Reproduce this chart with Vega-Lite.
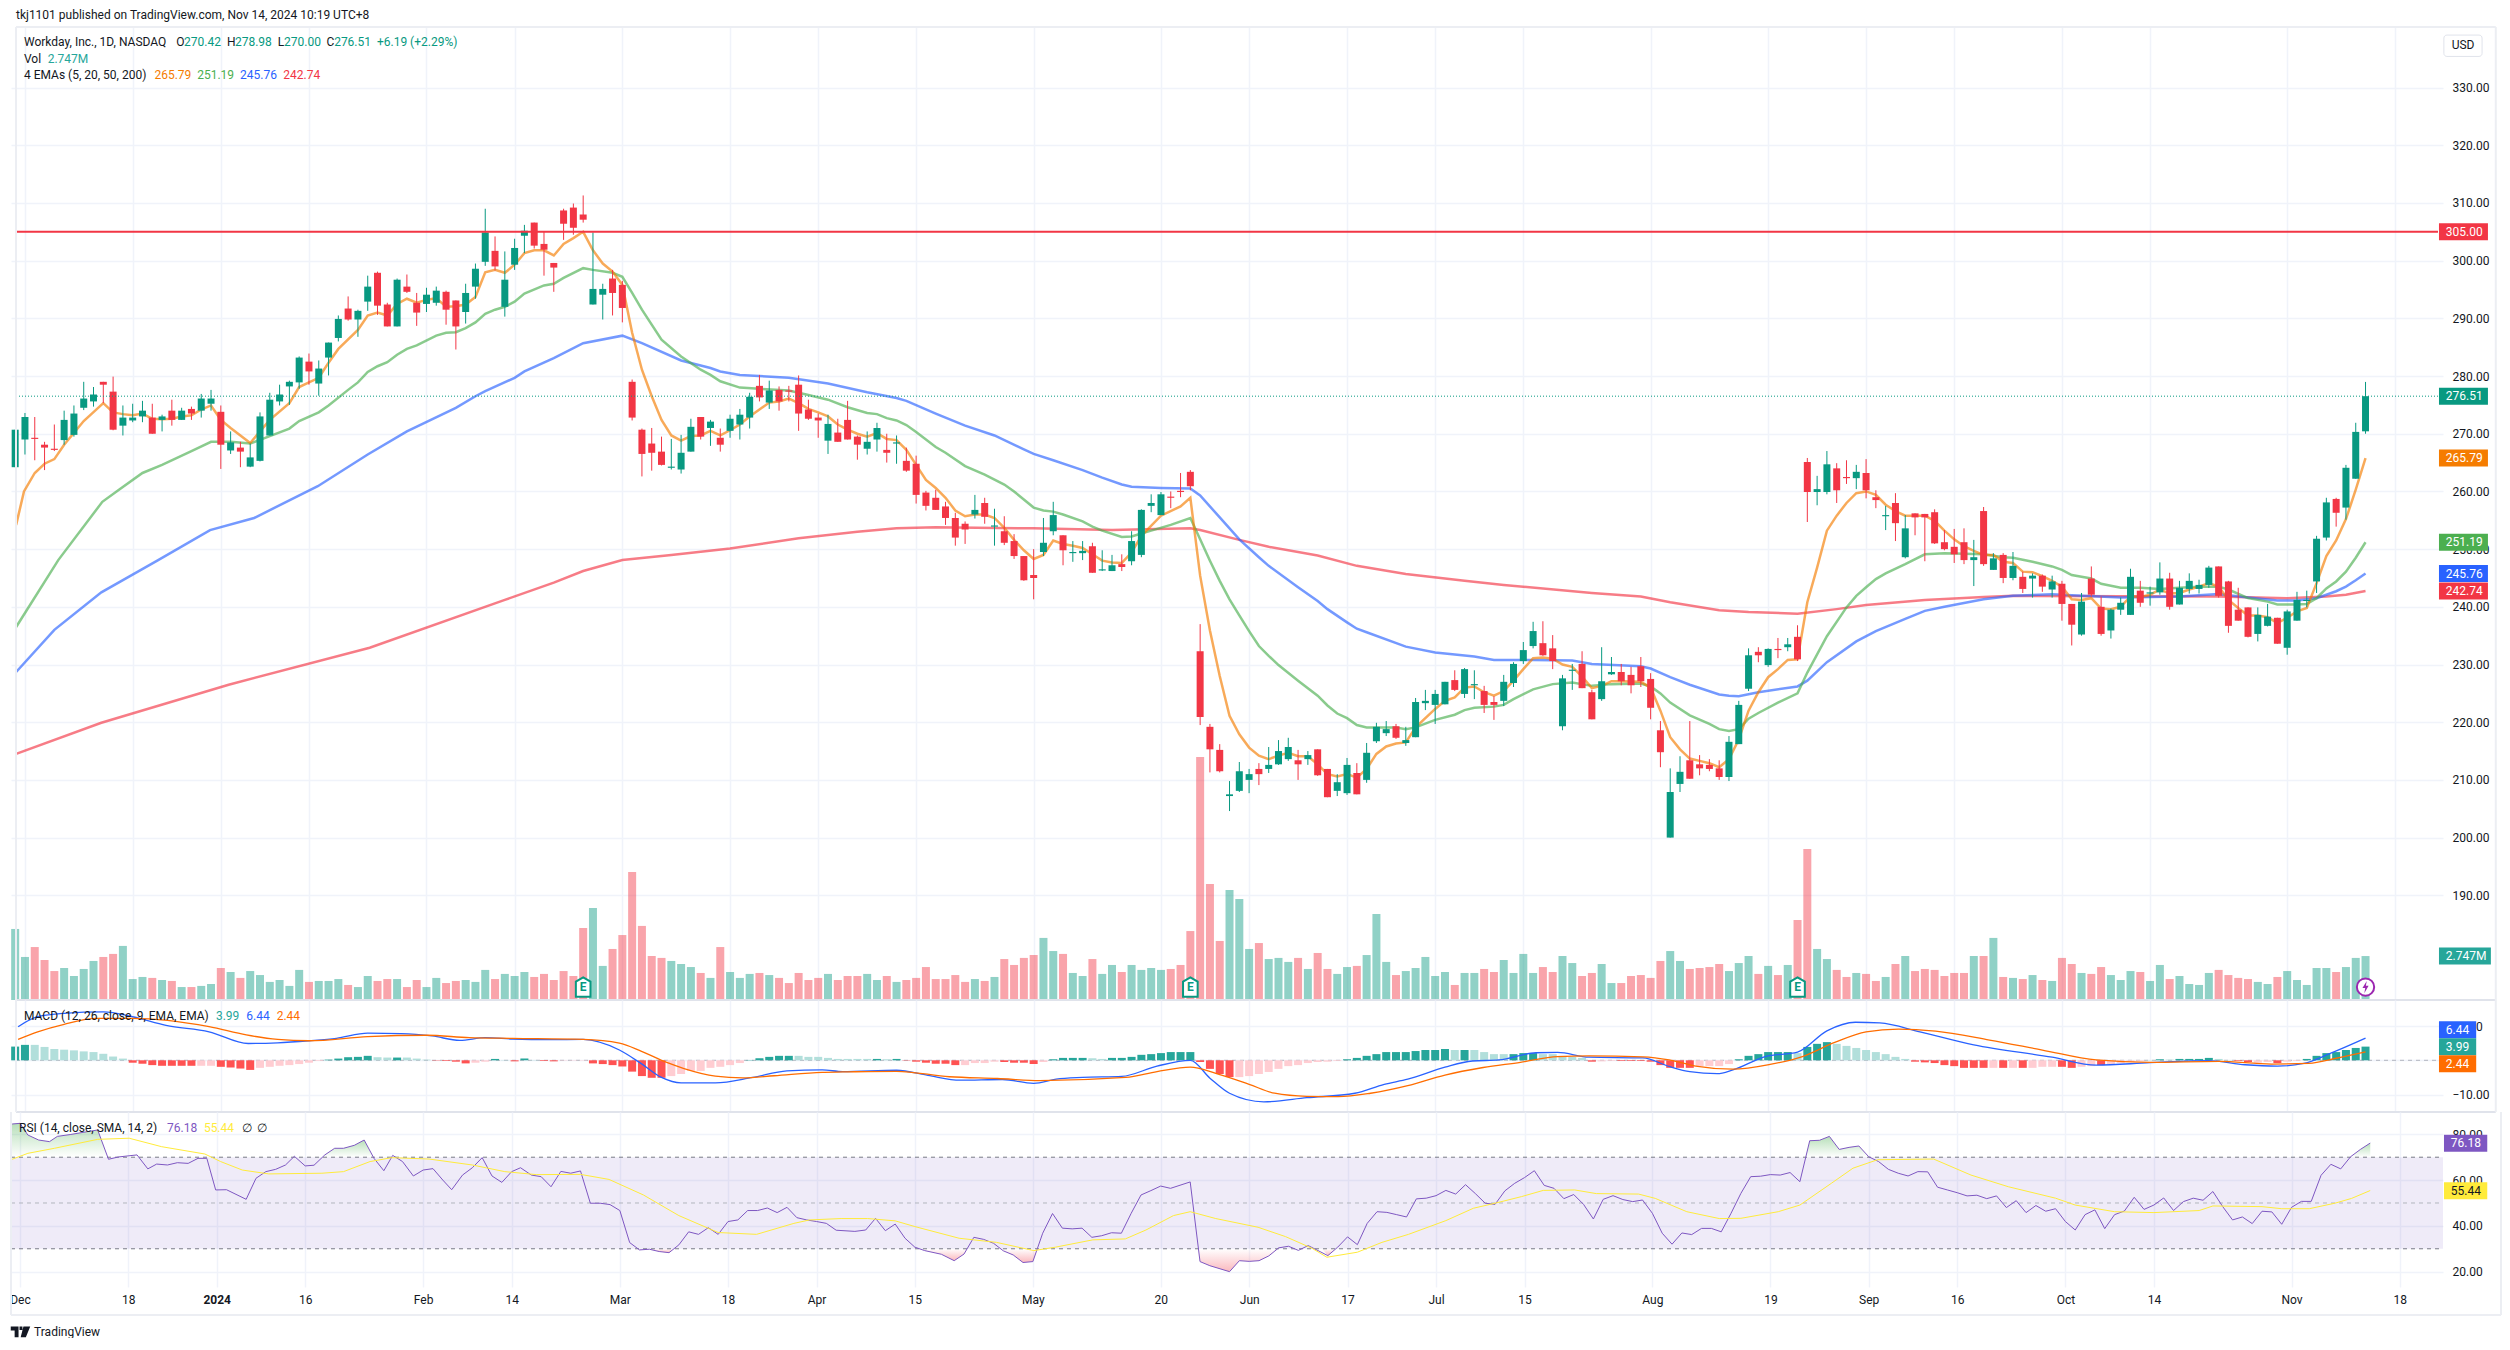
{
"$schema":"https://vega.github.io/schema/vega-lite/v6.json",
"background":"white",
"padding":{"left":9,"top":8,"right":0,"bottom":0},
"spacing":0,
"bounds":"flush",
"config":{"font":"Roboto","legend":{"disable":true},"view":{"stroke":null},"text":{"fontSize":12,"align":"left","baseline":"middle"},
"axis":{"title":null,"domain":false,"ticks":false,"gridColor":"#f0f3fa","gridWidth":1.5,"labelFontSize":12,"labelColor":"#131722","labelFont":"Roboto"}},
"datasets":{
"bars":[
{"i":-1,"o":264.2,"h":270.7,"l":264.2,"c":270.7,"v":4.44},{"i":0,"o":269,"h":273.6,"l":266.4,"c":272.9,"v":2.69},{"i":1,"o":269.3,"h":272.9,"l":265.4,"c":269.1,"v":3.31},{"i":2,"o":268.1,"h":268.6,"l":263.7,"c":267.6,"v":2.5},{"i":3,"o":267.4,"h":271.6,"l":267,"c":267.2,"v":1.81},{"i":4,"o":268.9,"h":274,"l":268.1,"c":272.4,"v":2},{"i":5,"o":269.8,"h":274.9,"l":269.5,"c":273.5,"v":1.5},{"i":6,"o":274.5,"h":279,"l":274.1,"c":276.1,"v":1.94},{"i":7,"o":275.6,"h":278.1,"l":274.7,"c":276.8,"v":2.44},{"i":8,"o":279,"h":279,"l":275.3,"c":278.5,"v":2.69},
{"i":9,"o":277.3,"h":279.9,"l":270.6,"c":270.7,"v":2.88},{"i":10,"o":271.4,"h":274.9,"l":269.7,"c":272.8,"v":3.38},{"i":11,"o":272.3,"h":275.2,"l":272,"c":272.8,"v":1.31},{"i":12,"o":273,"h":275.7,"l":272,"c":274,"v":1.44},{"i":13,"o":272.8,"h":275.2,"l":270,"c":270,"v":1.38},{"i":14,"o":272.4,"h":273.3,"l":270.4,"c":273,"v":1.25},{"i":15,"o":274,"h":275.9,"l":271.4,"c":272.4,"v":1.19},{"i":16,"o":272.4,"h":274.5,"l":272.4,"c":274,"v":0.81},{"i":17,"o":274.3,"h":274.7,"l":272.4,"c":273.5,"v":0.81},{"i":18,"o":274,"h":276.9,"l":272.8,"c":276.1,"v":0.88},
{"i":19,"o":275.2,"h":277.6,"l":274,"c":276.1,"v":1},{"i":20,"o":273.8,"h":274.9,"l":263.9,"c":268.1,"v":2},{"i":21,"o":267.1,"h":270.4,"l":266.5,"c":268.5,"v":1.75},{"i":22,"o":267.6,"h":268.6,"l":264.2,"c":266.9,"v":1.38},{"i":23,"o":264.3,"h":268.3,"l":264.2,"c":265.9,"v":1.81},{"i":24,"o":265.3,"h":273.7,"l":265.2,"c":273,"v":1.56},{"i":25,"o":269.7,"h":277.1,"l":269.7,"c":275.9,"v":1.13},{"i":26,"o":275.6,"h":278.5,"l":274.9,"c":276.8,"v":1.25},{"i":27,"o":278.2,"h":279.2,"l":275,"c":279,"v":0.88},{"i":28,"o":278.9,"h":283.4,"l":277.8,"c":283.2,"v":1.88},
{"i":29,"o":282.5,"h":283.9,"l":278.5,"c":280.8,"v":1.13},{"i":30,"o":278.7,"h":282.7,"l":276.6,"c":281.3,"v":1.19},{"i":31,"o":283.2,"h":285.8,"l":280.1,"c":285.8,"v":1.19},{"i":32,"o":286.6,"h":290.5,"l":286,"c":289.9,"v":1.31},{"i":33,"o":291.7,"h":293.8,"l":289.6,"c":289.8,"v":0.94},{"i":34,"o":289.8,"h":291.5,"l":286.8,"c":291.3,"v":0.81},{"i":35,"o":292.9,"h":297.4,"l":291.3,"c":295.5,"v":1.5},{"i":36,"o":297.9,"h":298.1,"l":290.6,"c":292.2,"v":1.19},{"i":37,"o":292.4,"h":292.7,"l":288.6,"c":288.6,"v":1.31},{"i":38,"o":288.6,"h":296.9,"l":288.6,"c":296.7,"v":1.31},
{"i":39,"o":295.5,"h":297.6,"l":294.4,"c":294.6,"v":0.81},{"i":40,"o":292.7,"h":294.4,"l":288.7,"c":291,"v":1.25},{"i":41,"o":292.5,"h":295.3,"l":291.1,"c":294.1,"v":0.81},{"i":42,"o":292.7,"h":295.5,"l":292.2,"c":294.8,"v":1.38},{"i":43,"o":294.6,"h":294.8,"l":288.9,"c":291.5,"v":1.06},{"i":44,"o":293.1,"h":293.1,"l":284.6,"c":288.6,"v":1.19},{"i":45,"o":291.1,"h":296,"l":289.1,"c":294.4,"v":1.25},{"i":46,"o":295.5,"h":299.5,"l":293.4,"c":298.6,"v":1.13},{"i":47,"o":299.8,"h":309,"l":299.1,"c":304.9,"v":1.88},{"i":48,"o":301.7,"h":304.2,"l":298.3,"c":299,"v":1.31},
{"i":49,"o":292,"h":301.6,"l":290.3,"c":296.7,"v":1.63},{"i":50,"o":299.3,"h":303.8,"l":298.4,"c":302.2,"v":1.5},{"i":51,"o":304.3,"h":306.2,"l":301.3,"c":305.2,"v":1.75},{"i":52,"o":306.6,"h":306.6,"l":302.1,"c":302.6,"v":1.44},{"i":53,"o":302.9,"h":305,"l":297.4,"c":301.9,"v":1.63},{"i":54,"o":299.6,"h":299.6,"l":294.6,"c":298.8,"v":1.25},{"i":55,"o":308.7,"h":309,"l":303.6,"c":306.4,"v":1.81},{"i":56,"o":309.2,"h":309.9,"l":304.5,"c":305.7,"v":1.5},{"i":57,"o":308,"h":311.3,"l":306.6,"c":307.1,"v":4.5},{"i":58,"o":292.4,"h":304.9,"l":292.4,"c":295.1,"v":5.75},
{"i":59,"o":294.1,"h":296,"l":289.8,"c":295.1,"v":2.13},{"i":60,"o":296.9,"h":298.4,"l":290.5,"c":294.4,"v":3.19},{"i":61,"o":295.8,"h":296.5,"l":289.3,"c":291.8,"v":4.06},{"i":62,"o":279,"h":279.4,"l":272.3,"c":272.8,"v":8},{"i":63,"o":270.7,"h":270.9,"l":262.6,"c":266.5,"v":4.63},{"i":64,"o":268.3,"h":271,"l":263.6,"c":266.7,"v":2.75},{"i":65,"o":266.9,"h":269.5,"l":264.5,"c":264.6,"v":2.63},{"i":66,"o":264.1,"h":269.1,"l":263.8,"c":264.3,"v":2.44},{"i":67,"o":263.8,"h":269.8,"l":263.1,"c":266.7,"v":2.25},{"i":68,"o":266.9,"h":272.6,"l":266.9,"c":271.2,"v":2.06},
{"i":69,"o":272.9,"h":272.9,"l":269,"c":269.5,"v":1.69},{"i":70,"o":271,"h":272.4,"l":267.9,"c":272.1,"v":1.38},{"i":71,"o":269.3,"h":270.9,"l":266.9,"c":268.1,"v":3.31},{"i":72,"o":270.5,"h":273.3,"l":269.3,"c":272.6,"v":1.75},{"i":73,"o":271.6,"h":274.3,"l":269,"c":273.3,"v":1.38},{"i":74,"o":272.8,"h":277.1,"l":270.9,"c":276.4,"v":1.63},{"i":75,"o":278.3,"h":280.2,"l":275.6,"c":276.3,"v":1.69},{"i":76,"o":275.4,"h":279.2,"l":274.3,"c":277.5,"v":1.56},{"i":77,"o":277.6,"h":278.2,"l":274,"c":275.6,"v":1.38},{"i":78,"o":277.5,"h":278.3,"l":275.6,"c":277.3,"v":1.06},
{"i":79,"o":278.5,"h":280.1,"l":270.5,"c":273.5,"v":1.69},{"i":80,"o":274.2,"h":275.9,"l":272.4,"c":272.6,"v":1.25},{"i":81,"o":272.8,"h":273.5,"l":269.3,"c":272.3,"v":1.38},{"i":82,"o":268.8,"h":273.3,"l":266.5,"c":271.7,"v":1.63},{"i":83,"o":270.2,"h":272.6,"l":268.6,"c":268.6,"v":1.25},{"i":84,"o":272.4,"h":275.7,"l":269,"c":269,"v":1.5},{"i":85,"o":269.5,"h":269.7,"l":265.5,"c":268.1,"v":1.5},{"i":86,"o":267.4,"h":270.4,"l":266.4,"c":268.6,"v":1.63},{"i":87,"o":269,"h":271.9,"l":266.9,"c":271,"v":1.25},{"i":88,"o":267.2,"h":270,"l":265,"c":266.7,"v":1.5},
{"i":89,"o":268.3,"h":269.7,"l":264.8,"c":268.5,"v":1.13},{"i":90,"o":265.3,"h":267.6,"l":263.4,"c":263.6,"v":1.25},{"i":91,"o":264.8,"h":266.2,"l":257.9,"c":259.4,"v":1.38},{"i":92,"o":259.8,"h":260.1,"l":256.7,"c":257.5,"v":2.06},{"i":93,"o":258.9,"h":260.3,"l":256.8,"c":256.8,"v":1.31},{"i":94,"o":257.4,"h":258.2,"l":254.2,"c":255.4,"v":1.31},{"i":95,"o":255.4,"h":256.3,"l":250.6,"c":252,"v":1.56},{"i":96,"o":254.4,"h":254.8,"l":250.9,"c":253.4,"v":1.13},{"i":97,"o":256,"h":259.4,"l":255.3,"c":256.8,"v":1.31},{"i":98,"o":258,"h":258.9,"l":254.4,"c":255.6,"v":1.19},
{"i":99,"o":253.9,"h":257,"l":250.6,"c":254.1,"v":1.44},{"i":100,"o":253.1,"h":255.7,"l":250.7,"c":251.1,"v":2.56},{"i":101,"o":251.4,"h":252.6,"l":248.3,"c":248.8,"v":2.19},{"i":102,"o":248.8,"h":248.8,"l":244.5,"c":244.6,"v":2.63},{"i":103,"o":245.5,"h":250,"l":241.3,"c":245,"v":2.81},{"i":104,"o":249.5,"h":255.4,"l":248.8,"c":251.1,"v":3.88},{"i":105,"o":253.1,"h":258.2,"l":252.4,"c":255.9,"v":3.06},{"i":106,"o":252.4,"h":252.4,"l":247.2,"c":249.8,"v":2.88},{"i":107,"o":249.3,"h":251.4,"l":247.8,"c":249.5,"v":1.69},{"i":108,"o":249.3,"h":251.4,"l":248.1,"c":249.7,"v":1.5},
{"i":109,"o":250.5,"h":251.1,"l":245.9,"c":245.9,"v":2.56},{"i":110,"o":246.3,"h":249.8,"l":246.2,"c":246.5,"v":1.63},{"i":111,"o":246.2,"h":249,"l":246.2,"c":247.2,"v":2.19},{"i":112,"o":247.4,"h":249.1,"l":246.2,"c":246.9,"v":1.75},{"i":113,"o":247.9,"h":253.1,"l":247.2,"c":251.4,"v":2.19},{"i":114,"o":249,"h":256.9,"l":248.6,"c":256.8,"v":1.88},{"i":115,"o":257.5,"h":259.5,"l":256.4,"c":258,"v":2},{"i":116,"o":255.9,"h":259.9,"l":255.9,"c":259.5,"v":1.88},{"i":117,"o":259.1,"h":260,"l":257.1,"c":258.9,"v":1.94},{"i":118,"o":260.1,"h":263.2,"l":259,"c":259.9,"v":2.19},
{"i":119,"o":263.4,"h":263.7,"l":260.2,"c":260.9,"v":4.31},{"i":120,"o":232.3,"h":237,"l":219.5,"c":220.9,"v":15.19},{"i":121,"o":219.2,"h":219.7,"l":211.3,"c":215.3,"v":7.25},{"i":122,"o":215.2,"h":216.2,"l":211.3,"c":211.5,"v":3.69},{"i":123,"o":207.2,"h":209.8,"l":204.6,"c":207.5,"v":6.88},{"i":124,"o":208.1,"h":213.1,"l":207.9,"c":211.5,"v":6.31},{"i":125,"o":210,"h":211.9,"l":207.7,"c":211,"v":3.19},{"i":126,"o":211.9,"h":212.9,"l":209.1,"c":211,"v":3.56},{"i":127,"o":211.9,"h":215.7,"l":211.2,"c":212.6,"v":2.56},{"i":128,"o":212.7,"h":216.9,"l":212.6,"c":215,"v":2.63},
{"i":129,"o":213.6,"h":217.3,"l":213.3,"c":215.7,"v":2.38},{"i":130,"o":213.4,"h":215.2,"l":210,"c":212.7,"v":2.63},{"i":131,"o":213.6,"h":215,"l":212.6,"c":214.3,"v":1.94},{"i":132,"o":215.3,"h":215.3,"l":210.7,"c":210.8,"v":2.94},{"i":133,"o":211.9,"h":211.9,"l":207,"c":207,"v":1.94},{"i":134,"o":208.1,"h":211,"l":207.2,"c":209.6,"v":1.63},{"i":135,"o":207.7,"h":213.8,"l":207.4,"c":212.6,"v":2.06},{"i":136,"o":211.2,"h":212.9,"l":207.5,"c":207.5,"v":2.13},{"i":137,"o":210,"h":216.4,"l":209.5,"c":214.7,"v":2.81},{"i":138,"o":216.7,"h":219.9,"l":216.4,"c":219.2,"v":5.38},
{"i":139,"o":218.1,"h":220.2,"l":217.6,"c":218.8,"v":2.38},{"i":140,"o":219.3,"h":219.7,"l":217.1,"c":217.3,"v":1.56},{"i":141,"o":216.4,"h":219.2,"l":215.9,"c":216.9,"v":1.81},{"i":142,"o":217.4,"h":224.2,"l":217.4,"c":223.5,"v":2},{"i":143,"o":223.3,"h":225.6,"l":222.1,"c":223.7,"v":2.69},{"i":144,"o":223,"h":225.6,"l":219.7,"c":224.9,"v":1.5},{"i":145,"o":223.1,"h":227,"l":223.1,"c":227,"v":1.75},{"i":146,"o":227.3,"h":229,"l":225.4,"c":225.6,"v":0.94},{"i":147,"o":224.9,"h":229.4,"l":224.2,"c":229.2,"v":1.69},{"i":148,"o":226.4,"h":229,"l":224,"c":226.6,"v":1.69},
{"i":149,"o":225.4,"h":226.3,"l":221.6,"c":223,"v":1.94},{"i":150,"o":223.5,"h":224.5,"l":220.4,"c":223,"v":1.75},{"i":151,"o":223.7,"h":228.2,"l":222.8,"c":227,"v":2.5},{"i":152,"o":226.8,"h":230.4,"l":226.1,"c":230.1,"v":1.69},{"i":153,"o":230.6,"h":233.9,"l":230.1,"c":232.5,"v":2.88},{"i":154,"o":233.2,"h":237.4,"l":232.8,"c":235.8,"v":1.69},{"i":155,"o":233.7,"h":237.5,"l":231.5,"c":231.6,"v":2.06},{"i":156,"o":232.8,"h":235.1,"l":229.2,"c":230.6,"v":1.75},{"i":157,"o":219.3,"h":228.2,"l":218.6,"c":227.6,"v":2.75},{"i":158,"o":228.9,"h":230.1,"l":225.6,"c":229.1,"v":2.31},
{"i":159,"o":230.1,"h":232.3,"l":225.9,"c":225.9,"v":1.5},{"i":160,"o":225.2,"h":225.6,"l":220.5,"c":220.5,"v":1.69},{"i":161,"o":224,"h":233,"l":223.7,"c":227.1,"v":2.25},{"i":162,"o":228.3,"h":231.3,"l":228.2,"c":228.7,"v":1.06},{"i":163,"o":228.7,"h":230.1,"l":226.4,"c":227.1,"v":1.06},{"i":164,"o":228.2,"h":229.6,"l":225,"c":226.4,"v":1.5},{"i":165,"o":229.7,"h":231.3,"l":226.1,"c":227.1,"v":1.56},{"i":166,"o":227.5,"h":228.5,"l":220.5,"c":222.5,"v":1.38},{"i":167,"o":218.6,"h":220.2,"l":212.2,"c":214.8,"v":2.44},{"i":168,"o":200,"h":212,"l":200,"c":207.9,"v":3.06},
{"i":169,"o":209.3,"h":214.1,"l":207.9,"c":211.4,"v":2.44},{"i":170,"o":213.4,"h":220.2,"l":210.2,"c":210.2,"v":1.94},{"i":171,"o":212.7,"h":214.3,"l":210.8,"c":212,"v":2},{"i":172,"o":212.6,"h":213.6,"l":211.5,"c":211.9,"v":2.06},{"i":173,"o":212,"h":213.4,"l":210,"c":210.5,"v":2.25},{"i":174,"o":210.5,"h":217.6,"l":209.8,"c":216.6,"v":1.81},{"i":175,"o":216.2,"h":223.7,"l":216.2,"c":223,"v":2.31},{"i":176,"o":225.8,"h":232.8,"l":225.4,"c":231.6,"v":2.75},{"i":177,"o":232.2,"h":233,"l":230.4,"c":231.6,"v":1.63},{"i":178,"o":229.9,"h":232.8,"l":229.6,"c":232.7,"v":2.13},
{"i":179,"o":232.7,"h":234.6,"l":231.1,"c":232.5,"v":1.56},{"i":180,"o":233,"h":234.6,"l":232.3,"c":233.5,"v":2.19},{"i":181,"o":234.8,"h":236.8,"l":230.6,"c":230.9,"v":5},{"i":182,"o":265.1,"h":265.8,"l":254.7,"c":259.9,"v":9.44},{"i":183,"o":259.9,"h":262.7,"l":257.6,"c":260.4,"v":3.19},{"i":184,"o":259.9,"h":267,"l":259.5,"c":264.7,"v":2.56},{"i":185,"o":264,"h":264.9,"l":258,"c":260.2,"v":1.88},{"i":186,"o":262.5,"h":265.4,"l":261.3,"c":262.3,"v":1.44},{"i":187,"o":262.3,"h":264.6,"l":260.4,"c":263.4,"v":1.69},{"i":188,"o":263.2,"h":265.6,"l":258.8,"c":260.2,"v":1.63},
{"i":189,"o":259,"h":260.2,"l":257.1,"c":258.5,"v":1.19},{"i":190,"o":255.7,"h":257.5,"l":253.3,"c":255.9,"v":1.44},{"i":191,"o":258,"h":259.7,"l":251.4,"c":254.5,"v":2.25},{"i":192,"o":248.6,"h":255.9,"l":248.4,"c":253.6,"v":2.75},{"i":193,"o":256.2,"h":256.2,"l":252.4,"c":255.5,"v":1.81},{"i":194,"o":256.1,"h":256.1,"l":247.9,"c":255.5,"v":1.94},{"i":195,"o":256.4,"h":256.9,"l":250.9,"c":251,"v":1.88},{"i":196,"o":251.2,"h":253.3,"l":249.8,"c":250,"v":1.5},{"i":197,"o":250.4,"h":253.5,"l":247.6,"c":249.1,"v":1.69},{"i":198,"o":251.2,"h":253.6,"l":247.4,"c":248.1,"v":1.69},
{"i":199,"o":248.1,"h":251.6,"l":243.6,"c":248.6,"v":2.75},{"i":200,"o":256.6,"h":257.3,"l":247.1,"c":247.4,"v":2.75},{"i":201,"o":246.4,"h":249.3,"l":246.4,"c":248.4,"v":3.88},{"i":202,"o":249,"h":249.3,"l":244.1,"c":245,"v":1.44},{"i":203,"o":245,"h":249.5,"l":244.6,"c":247.1,"v":1.38},{"i":204,"o":245.2,"h":246.1,"l":242.4,"c":243.1,"v":1.31},{"i":205,"o":244.9,"h":245.8,"l":241.6,"c":245.4,"v":1.56},{"i":206,"o":245.4,"h":245.6,"l":242.6,"c":243.5,"v":1.25},{"i":207,"o":243,"h":245.4,"l":241.6,"c":244.4,"v":1.19},{"i":208,"o":244,"h":244.5,"l":237.6,"c":240.5,"v":2.63},
{"i":209,"o":240.5,"h":240.5,"l":233.3,"c":236.9,"v":2.25},{"i":210,"o":235.2,"h":242.4,"l":235,"c":240.9,"v":1.69},{"i":211,"o":244.9,"h":247,"l":241.8,"c":242.1,"v":1.63},{"i":212,"o":240,"h":241.8,"l":235,"c":235.3,"v":2.06},{"i":213,"o":235.9,"h":239.7,"l":234.5,"c":239.5,"v":1.56},{"i":214,"o":239.5,"h":241.6,"l":238.6,"c":240.7,"v":1.25},{"i":215,"o":238.6,"h":246.6,"l":238.6,"c":245.2,"v":1.81},{"i":216,"o":242.8,"h":244.5,"l":240,"c":240.7,"v":1.75},{"i":217,"o":242.3,"h":243.5,"l":240.2,"c":242.5,"v":1.19},{"i":218,"o":242.5,"h":247.7,"l":242.1,"c":244.9,"v":2.19},
{"i":219,"o":244.9,"h":245.9,"l":239.5,"c":240,"v":1.31},{"i":220,"o":240.4,"h":244.5,"l":240.4,"c":243.3,"v":1.5},{"i":221,"o":243.1,"h":245.8,"l":242.3,"c":244.5,"v":1},{"i":222,"o":243.1,"h":244.7,"l":242.3,"c":243.8,"v":0.94},{"i":223,"o":243.8,"h":247.1,"l":243.3,"c":246.8,"v":1.69},{"i":224,"o":247,"h":247,"l":241.6,"c":241.9,"v":1.88},{"i":225,"o":244.4,"h":244.5,"l":235.5,"c":236.7,"v":1.56},{"i":226,"o":239.5,"h":243.3,"l":237.6,"c":237.6,"v":1.38},{"i":227,"o":239.9,"h":239.9,"l":234.7,"c":234.8,"v":1.31},{"i":228,"o":235.3,"h":239.9,"l":234,"c":238.6,"v":1.13},
{"i":229,"o":236.7,"h":240.5,"l":236.6,"c":238.3,"v":1},{"i":230,"o":238.1,"h":238.1,"l":233.6,"c":233.6,"v":1.44},{"i":231,"o":232.9,"h":239.5,"l":231.7,"c":239.2,"v":1.81},{"i":232,"o":237.6,"h":242.6,"l":237.6,"c":241.2,"v":1.25},{"i":233,"o":241,"h":242.8,"l":239.9,"c":241.2,"v":0.94},{"i":234,"o":244.4,"h":252.3,"l":242.4,"c":251.8,"v":2},{"i":235,"o":252,"h":258.9,"l":251.5,"c":258.1,"v":2},{"i":236,"o":258.7,"h":258.9,"l":253.9,"c":256.3,"v":1.75},{"i":237,"o":257.2,"h":264.6,"l":255.1,"c":264.1,"v":2.06},{"i":238,"o":262.2,"h":271.9,"l":262.2,"c":270.32,"v":2.63},
{"i":239,"o":270.42,"h":278.98,"l":270,"c":276.51,"v":2.747}
],
"ema":[
{"s":"ema200","i":-0.9,"v":214.5},{"s":"ema200","i":7.8,"v":219.9},{"s":"ema200","i":20.8,"v":226.5},{"s":"ema200","i":35.2,"v":232.9},{"s":"ema200","i":49,"v":241.2},{"s":"ema200","i":54,"v":244.2},{"s":"ema200","i":57,"v":246.2},{"s":"ema200","i":61,"v":248.1},{"s":"ema200","i":66,"v":249},{"s":"ema200","i":72,"v":250.1},{"s":"ema200","i":79,"v":251.9},{"s":"ema200","i":85,"v":253},{"s":"ema200","i":89,"v":253.6},{"s":"ema200","i":93,"v":253.8},{"s":"ema200","i":103,"v":253.6},{"s":"ema200","i":111,"v":253.3},{"s":"ema200","i":119,"v":253.6},{"s":"ema200","i":120,"v":253.3},{"s":"ema200","i":124,"v":251.6},{"s":"ema200","i":127,"v":250.4},{"s":"ema200","i":132,"v":248.9},{"s":"ema200","i":136,"v":247.1},{"s":"ema200","i":141,"v":245.7},{"s":"ema200","i":147,"v":244.5},{"s":"ema200","i":151,"v":243.8},{"s":"ema200","i":160,"v":242.4},{"s":"ema200","i":165,"v":241.8},{"s":"ema200","i":168,"v":240.8},{"s":"ema200","i":173,"v":239.4},{"s":"ema200","i":176,"v":239.1},{"s":"ema200","i":181,"v":238.8},{"s":"ema200","i":185,"v":239.6},{"s":"ema200","i":188,"v":240.3},{"s":"ema200","i":194,"v":241.2},{"s":"ema200","i":200,"v":241.7},{"s":"ema200","i":203,"v":241.9},{"s":"ema200","i":224,"v":241.8},{"s":"ema200","i":231,"v":241.5},{"s":"ema200","i":235,"v":241.8},{"s":"ema200","i":237,"v":242.1},{"s":"ema200","i":239,"v":242.74},
{"s":"ema50","i":-0.9,"v":228.7},{"s":"ema50","i":3,"v":236},{"s":"ema50","i":7.8,"v":242.5},{"s":"ema50","i":13.6,"v":248.1},{"s":"ema50","i":18.9,"v":253.3},{"s":"ema50","i":23.4,"v":255.4},{"s":"ema50","i":29.9,"v":260.9},{"s":"ema50","i":35,"v":266.4},{"s":"ema50","i":39,"v":270.4},{"s":"ema50","i":44,"v":274.5},{"s":"ema50","i":46,"v":276.5},{"s":"ema50","i":47,"v":277.4},{"s":"ema50","i":50,"v":279.7},{"s":"ema50","i":51,"v":280.8},{"s":"ema50","i":54,"v":283.1},{"s":"ema50","i":57,"v":285.7},{"s":"ema50","i":61,"v":287},{"s":"ema50","i":63,"v":285.7},{"s":"ema50","i":67,"v":282.7},{"s":"ema50","i":70,"v":281.4},{"s":"ema50","i":71,"v":280.8},{"s":"ema50","i":73,"v":280.2},{"s":"ema50","i":78,"v":279.7},{"s":"ema50","i":82,"v":278.7},{"s":"ema50","i":86,"v":277.2},{"s":"ema50","i":89,"v":276.2},{"s":"ema50","i":90,"v":275.7},{"s":"ema50","i":93,"v":273.5},{"s":"ema50","i":96,"v":271.4},{"s":"ema50","i":99,"v":269.7},{"s":"ema50","i":102,"v":267.3},{"s":"ema50","i":103,"v":266.5},{"s":"ema50","i":105,"v":265.4},{"s":"ema50","i":108,"v":263.7},{"s":"ema50","i":110,"v":262.4},{"s":"ema50","i":112,"v":261.2},{"s":"ema50","i":113,"v":260.8},{"s":"ema50","i":116,"v":260.6},{"s":"ema50","i":119,"v":260.5},{"s":"ema50","i":120,"v":259.3},{"s":"ema50","i":122,"v":255.5},{"s":"ema50","i":124,"v":251.7},{"s":"ema50","i":126,"v":248.6},{"s":"ema50","i":127,"v":247.1},{"s":"ema50","i":130,"v":243.4},{"s":"ema50","i":132,"v":241},{"s":"ema50","i":133,"v":239.6},{"s":"ema50","i":135,"v":237.3},{"s":"ema50","i":136,"v":236.2},{"s":"ema50","i":137,"v":235.6},{"s":"ema50","i":141,"v":233.1},{"s":"ema50","i":144,"v":232.1},{"s":"ema50","i":148,"v":231.4},{"s":"ema50","i":150,"v":230.8},{"s":"ema50","i":154,"v":230.8},{"s":"ema50","i":158,"v":230.7},{"s":"ema50","i":160,"v":230.1},{"s":"ema50","i":165,"v":229.7},{"s":"ema50","i":166,"v":229.3},{"s":"ema50","i":168,"v":227.8},{"s":"ema50","i":170,"v":226.5},{"s":"ema50","i":173,"v":224.8},{"s":"ema50","i":174,"v":224.6},{"s":"ema50","i":175,"v":224.5},{"s":"ema50","i":177,"v":225.2},{"s":"ema50","i":181,"v":226.2},{"s":"ema50","i":182,"v":227.2},{"s":"ema50","i":184,"v":230.4},{"s":"ema50","i":187,"v":234},{"s":"ema50","i":189,"v":235.8},{"s":"ema50","i":192,"v":237.9},{"s":"ema50","i":194,"v":239.3},{"s":"ema50","i":196,"v":240},{"s":"ema50","i":200,"v":241.3},{"s":"ema50","i":203,"v":241.9},{"s":"ema50","i":207,"v":242.2},{"s":"ema50","i":209,"v":242},{"s":"ema50","i":214,"v":241.6},{"s":"ema50","i":220,"v":241.8},{"s":"ema50","i":224,"v":242.2},{"s":"ema50","i":227,"v":241.6},{"s":"ema50","i":230,"v":241.1},{"s":"ema50","i":232,"v":241.1},{"s":"ema50","i":234,"v":241.5},{"s":"ema50","i":236,"v":242.7},{"s":"ema50","i":237,"v":243.5},{"s":"ema50","i":238,"v":244.6},{"s":"ema50","i":239,"v":245.76},
{"s":"ema20","i":-0.9,"v":236.5},{"s":"ema20","i":3.4,"v":248.1},{"s":"ema20","i":7.9,"v":258.2},{"s":"ema20","i":9.6,"v":260.3},{"s":"ema20","i":12,"v":263.2},{"s":"ema20","i":14,"v":264.6},{"s":"ema20","i":17,"v":267},{"s":"ema20","i":19,"v":268.6},{"s":"ema20","i":21,"v":268.6},{"s":"ema20","i":23,"v":268.3},{"s":"ema20","i":25,"v":269.6},{"s":"ema20","i":27,"v":270.9},{"s":"ema20","i":28,"v":272.2},{"s":"ema20","i":30,"v":273.7},{"s":"ema20","i":31,"v":274.9},{"s":"ema20","i":33,"v":277.6},{"s":"ema20","i":34,"v":278.9},{"s":"ema20","i":35,"v":280.7},{"s":"ema20","i":36,"v":281.7},{"s":"ema20","i":37,"v":282.4},{"s":"ema20","i":38,"v":283.7},{"s":"ema20","i":39,"v":284.7},{"s":"ema20","i":40,"v":285.3},{"s":"ema20","i":42,"v":287},{"s":"ema20","i":43,"v":287.5},{"s":"ema20","i":44,"v":287.6},{"s":"ema20","i":45,"v":288.3},{"s":"ema20","i":46,"v":289.3},{"s":"ema20","i":47,"v":290.8},{"s":"ema20","i":48,"v":291.5},{"s":"ema20","i":49,"v":292},{"s":"ema20","i":50,"v":292.9},{"s":"ema20","i":51,"v":294.3},{"s":"ema20","i":53,"v":295.7},{"s":"ema20","i":54,"v":296},{"s":"ema20","i":55,"v":297},{"s":"ema20","i":57,"v":298.7},{"s":"ema20","i":58,"v":298.4},{"s":"ema20","i":60,"v":297.9},{"s":"ema20","i":61,"v":297.2},{"s":"ema20","i":62,"v":294.4},{"s":"ema20","i":63,"v":291.5},{"s":"ema20","i":65,"v":286.3},{"s":"ema20","i":67,"v":283.4},{"s":"ema20","i":69,"v":281.1},{"s":"ema20","i":70,"v":280.2},{"s":"ema20","i":71,"v":279.1},{"s":"ema20","i":73,"v":278},{"s":"ema20","i":75,"v":277.8},{"s":"ema20","i":78,"v":277.5},{"s":"ema20","i":80,"v":276.7},{"s":"ema20","i":82,"v":275.9},{"s":"ema20","i":84,"v":274.6},{"s":"ema20","i":86,"v":273.6},{"s":"ema20","i":87,"v":273.4},{"s":"ema20","i":88,"v":272.7},{"s":"ema20","i":89,"v":272.3},{"s":"ema20","i":90,"v":271.5},{"s":"ema20","i":91,"v":270.3},{"s":"ema20","i":93,"v":267.7},{"s":"ema20","i":94,"v":266.7},{"s":"ema20","i":96,"v":264.4},{"s":"ema20","i":98,"v":262.9},{"s":"ema20","i":100,"v":261.2},{"s":"ema20","i":101,"v":260},{"s":"ema20","i":103,"v":257.2},{"s":"ema20","i":104,"v":256.7},{"s":"ema20","i":105,"v":256.5},{"s":"ema20","i":106,"v":256},{"s":"ema20","i":108,"v":254.8},{"s":"ema20","i":109,"v":253.9},{"s":"ema20","i":110,"v":253.2},{"s":"ema20","i":112,"v":252.1},{"s":"ema20","i":113,"v":252.2},{"s":"ema20","i":114,"v":252.7},{"s":"ema20","i":115,"v":253.2},{"s":"ema20","i":117,"v":254.2},{"s":"ema20","i":119,"v":255.4},{"s":"ema20","i":120,"v":251.7},{"s":"ema20","i":121,"v":248},{"s":"ema20","i":122,"v":244.5},{"s":"ema20","i":123,"v":241.3},{"s":"ema20","i":124,"v":238.5},{"s":"ema20","i":125,"v":235.8},{"s":"ema20","i":126,"v":233.2},{"s":"ema20","i":127,"v":231.5},{"s":"ema20","i":128,"v":229.9},{"s":"ema20","i":130,"v":227.2},{"s":"ema20","i":132,"v":224.6},{"s":"ema20","i":133,"v":222.9},{"s":"ema20","i":134,"v":221.5},{"s":"ema20","i":135,"v":220.7},{"s":"ema20","i":136,"v":219.5},{"s":"ema20","i":137,"v":219.1},{"s":"ema20","i":140,"v":219.1},{"s":"ema20","i":141,"v":218.8},{"s":"ema20","i":142,"v":219.1},{"s":"ema20","i":144,"v":220.4},{"s":"ema20","i":146,"v":221.3},{"s":"ema20","i":147,"v":222.1},{"s":"ema20","i":148,"v":222.5},{"s":"ema20","i":150,"v":222.7},{"s":"ema20","i":151,"v":223},{"s":"ema20","i":152,"v":224},{"s":"ema20","i":154,"v":225.7},{"s":"ema20","i":156,"v":226.6},{"s":"ema20","i":158,"v":226.9},{"s":"ema20","i":160,"v":226.3},{"s":"ema20","i":162,"v":226.6},{"s":"ema20","i":165,"v":226.7},{"s":"ema20","i":166,"v":226.2},{"s":"ema20","i":167,"v":225},{"s":"ema20","i":168,"v":223.4},{"s":"ema20","i":170,"v":221.2},{"s":"ema20","i":172,"v":219.7},{"s":"ema20","i":173,"v":218.8},{"s":"ema20","i":174,"v":218.5},{"s":"ema20","i":175,"v":218.8},{"s":"ema20","i":176,"v":220.6},{"s":"ema20","i":177,"v":221.6},{"s":"ema20","i":179,"v":223.4},{"s":"ema20","i":181,"v":225},{"s":"ema20","i":182,"v":228.6},{"s":"ema20","i":184,"v":234.9},{"s":"ema20","i":186,"v":239.9},{"s":"ema20","i":187,"v":241.9},{"s":"ema20","i":188,"v":243.4},{"s":"ema20","i":189,"v":244.8},{"s":"ema20","i":190,"v":245.8},{"s":"ema20","i":192,"v":247.4},{"s":"ema20","i":194,"v":249.1},{"s":"ema20","i":196,"v":249.3},{"s":"ema20","i":198,"v":249.2},{"s":"ema20","i":200,"v":249.1},{"s":"ema20","i":202,"v":248.6},{"s":"ema20","i":203,"v":248.5},{"s":"ema20","i":205,"v":247.8},{"s":"ema20","i":207,"v":247},{"s":"ema20","i":208,"v":246.4},{"s":"ema20","i":209,"v":245.5},{"s":"ema20","i":211,"v":244.9},{"s":"ema20","i":212,"v":244},{"s":"ema20","i":214,"v":243.3},{"s":"ema20","i":216,"v":243.3},{"s":"ema20","i":218,"v":243.1},{"s":"ema20","i":220,"v":243.3},{"s":"ema20","i":222,"v":243.5},{"s":"ema20","i":224,"v":243.5},{"s":"ema20","i":225,"v":243},{"s":"ema20","i":227,"v":241.5},{"s":"ema20","i":229,"v":240.9},{"s":"ema20","i":230,"v":240.4},{"s":"ema20","i":232,"v":240.4},{"s":"ema20","i":233,"v":240.5},{"s":"ema20","i":234,"v":241.5},{"s":"ema20","i":235,"v":243.2},{"s":"ema20","i":236,"v":244.4},{"s":"ema20","i":237,"v":246.1},{"s":"ema20","i":238,"v":248.5},{"s":"ema20","i":239,"v":251.19},
{"s":"ema5","i":-0.9,"v":254.2},{"s":"ema5","i":-0.1,"v":260},{"s":"ema5","i":1,"v":263.2},{"s":"ema5","i":2,"v":264.8},{"s":"ema5","i":3,"v":265.6},{"s":"ema5","i":4,"v":268.1},{"s":"ema5","i":6,"v":272.2},{"s":"ema5","i":8,"v":275.3},{"s":"ema5","i":9,"v":273.7},{"s":"ema5","i":10,"v":273.4},{"s":"ema5","i":11,"v":273.2},{"s":"ema5","i":12,"v":273.5},{"s":"ema5","i":13,"v":272.6},{"s":"ema5","i":14,"v":272.5},{"s":"ema5","i":15,"v":272.6},{"s":"ema5","i":16,"v":273},{"s":"ema5","i":17,"v":273.2},{"s":"ema5","i":18,"v":274.2},{"s":"ema5","i":19,"v":274.9},{"s":"ema5","i":20,"v":272.4},{"s":"ema5","i":21,"v":271},{"s":"ema5","i":23,"v":268.4},{"s":"ema5","i":25,"v":272.4},{"s":"ema5","i":27,"v":275.3},{"s":"ema5","i":28,"v":278.1},{"s":"ema5","i":29,"v":278.9},{"s":"ema5","i":30,"v":279.7},{"s":"ema5","i":31,"v":282.3},{"s":"ema5","i":32,"v":284.7},{"s":"ema5","i":34,"v":288},{"s":"ema5","i":35,"v":290.5},{"s":"ema5","i":36,"v":291},{"s":"ema5","i":37,"v":290.5},{"s":"ema5","i":38,"v":292.5},{"s":"ema5","i":39,"v":293.4},{"s":"ema5","i":40,"v":292.7},{"s":"ema5","i":41,"v":293.2},{"s":"ema5","i":42,"v":293.5},{"s":"ema5","i":43,"v":292},{"s":"ema5","i":44,"v":292.1},{"s":"ema5","i":45,"v":292.4},{"s":"ema5","i":46,"v":293.7},{"s":"ema5","i":47,"v":298},{"s":"ema5","i":48,"v":298.4},{"s":"ema5","i":49,"v":297.9},{"s":"ema5","i":50,"v":299.3},{"s":"ema5","i":51,"v":301.3},{"s":"ema5","i":52,"v":301.8},{"s":"ema5","i":53,"v":301.8},{"s":"ema5","i":54,"v":300.9},{"s":"ema5","i":55,"v":302.9},{"s":"ema5","i":56,"v":303.9},{"s":"ema5","i":57,"v":305},{"s":"ema5","i":58,"v":301.8},{"s":"ema5","i":59,"v":299.5},{"s":"ema5","i":60,"v":298.1},{"s":"ema5","i":61,"v":295.8},{"s":"ema5","i":62,"v":287.5},{"s":"ema5","i":63,"v":281.1},{"s":"ema5","i":64,"v":276.5},{"s":"ema5","i":65,"v":272.4},{"s":"ema5","i":66,"v":269.7},{"s":"ema5","i":67,"v":268.8},{"s":"ema5","i":68,"v":269.6},{"s":"ema5","i":69,"v":269.7},{"s":"ema5","i":70,"v":270.5},{"s":"ema5","i":71,"v":269.7},{"s":"ema5","i":72,"v":270.6},{"s":"ema5","i":73,"v":271.6},{"s":"ema5","i":74,"v":273},{"s":"ema5","i":75,"v":274.2},{"s":"ema5","i":76,"v":275.4},{"s":"ema5","i":77,"v":275.6},{"s":"ema5","i":78,"v":276.1},{"s":"ema5","i":79,"v":275.3},{"s":"ema5","i":80,"v":274.3},{"s":"ema5","i":81,"v":273.7},{"s":"ema5","i":82,"v":273},{"s":"ema5","i":83,"v":271.6},{"s":"ema5","i":84,"v":270.7},{"s":"ema5","i":85,"v":270},{"s":"ema5","i":86,"v":269.5},{"s":"ema5","i":87,"v":270.1},{"s":"ema5","i":88,"v":269.1},{"s":"ema5","i":89,"v":268.9},{"s":"ema5","i":90,"v":267.2},{"s":"ema5","i":91,"v":264.6},{"s":"ema5","i":92,"v":262},{"s":"ema5","i":93,"v":260.6},{"s":"ema5","i":94,"v":258.9},{"s":"ema5","i":95,"v":256.7},{"s":"ema5","i":96,"v":255.7},{"s":"ema5","i":97,"v":256},{"s":"ema5","i":98,"v":256},{"s":"ema5","i":99,"v":255.4},{"s":"ema5","i":100,"v":253.7},{"s":"ema5","i":101,"v":251.6},{"s":"ema5","i":102,"v":249.8},{"s":"ema5","i":103,"v":248.3},{"s":"ema5","i":104,"v":249},{"s":"ema5","i":105,"v":251.5},{"s":"ema5","i":106,"v":250.9},{"s":"ema5","i":107,"v":250.6},{"s":"ema5","i":108,"v":250.2},{"s":"ema5","i":109,"v":249.1},{"s":"ema5","i":110,"v":248},{"s":"ema5","i":111,"v":247.7},{"s":"ema5","i":112,"v":247.6},{"s":"ema5","i":113,"v":249.4},{"s":"ema5","i":114,"v":252.3},{"s":"ema5","i":116,"v":255.8},{"s":"ema5","i":118,"v":257.4},{"s":"ema5","i":119,"v":258.9},{"s":"ema5","i":120,"v":245.4},{"s":"ema5","i":121,"v":235.9},{"s":"ema5","i":122,"v":228},{"s":"ema5","i":123,"v":221.1},{"s":"ema5","i":124,"v":217.9},{"s":"ema5","i":125,"v":215.6},{"s":"ema5","i":126,"v":214.2},{"s":"ema5","i":127,"v":213.6},{"s":"ema5","i":128,"v":214.2},{"s":"ema5","i":129,"v":214.7},{"s":"ema5","i":130,"v":214.1},{"s":"ema5","i":131,"v":214.1},{"s":"ema5","i":132,"v":212.7},{"s":"ema5","i":133,"v":211},{"s":"ema5","i":134,"v":210.6},{"s":"ema5","i":135,"v":211},{"s":"ema5","i":136,"v":210.4},{"s":"ema5","i":137,"v":211.9},{"s":"ema5","i":138,"v":214.5},{"s":"ema5","i":139,"v":215.8},{"s":"ema5","i":140,"v":216.3},{"s":"ema5","i":141,"v":216.5},{"s":"ema5","i":142,"v":219.1},{"s":"ema5","i":144,"v":222.3},{"s":"ema5","i":145,"v":223.7},{"s":"ema5","i":146,"v":224.3},{"s":"ema5","i":147,"v":226},{"s":"ema5","i":148,"v":226.2},{"s":"ema5","i":149,"v":225.2},{"s":"ema5","i":150,"v":224.6},{"s":"ema5","i":151,"v":225.4},{"s":"ema5","i":152,"v":227.2},{"s":"ema5","i":153,"v":229.2},{"s":"ema5","i":154,"v":231.1},{"s":"ema5","i":155,"v":231.2},{"s":"ema5","i":156,"v":231},{"s":"ema5","i":157,"v":230},{"s":"ema5","i":158,"v":229.6},{"s":"ema5","i":159,"v":227.9},{"s":"ema5","i":160,"v":225.9},{"s":"ema5","i":161,"v":226.3},{"s":"ema5","i":162,"v":227.1},{"s":"ema5","i":163,"v":227.1},{"s":"ema5","i":165,"v":227},{"s":"ema5","i":166,"v":226},{"s":"ema5","i":167,"v":222},{"s":"ema5","i":168,"v":217.4},{"s":"ema5","i":169,"v":215.3},{"s":"ema5","i":170,"v":213.7},{"s":"ema5","i":171,"v":213.3},{"s":"ema5","i":172,"v":212.9},{"s":"ema5","i":173,"v":212.2},{"s":"ema5","i":174,"v":213.6},{"s":"ema5","i":175,"v":217},{"s":"ema5","i":176,"v":222},{"s":"ema5","i":177,"v":225.2},{"s":"ema5","i":178,"v":227.8},{"s":"ema5","i":179,"v":229.2},{"s":"ema5","i":180,"v":230.8},{"s":"ema5","i":181,"v":230.9},{"s":"ema5","i":182,"v":240.8},{"s":"ema5","i":183,"v":246.8},{"s":"ema5","i":184,"v":253.2},{"s":"ema5","i":185,"v":255.8},{"s":"ema5","i":186,"v":258},{"s":"ema5","i":187,"v":259.7},{"s":"ema5","i":188,"v":260},{"s":"ema5","i":189,"v":259.4},{"s":"ema5","i":190,"v":257.7},{"s":"ema5","i":191,"v":256.6},{"s":"ema5","i":192,"v":255.8},{"s":"ema5","i":194,"v":255.8},{"s":"ema5","i":195,"v":254.9},{"s":"ema5","i":196,"v":253.2},{"s":"ema5","i":197,"v":251.7},{"s":"ema5","i":198,"v":250.5},{"s":"ema5","i":199,"v":249.7},{"s":"ema5","i":200,"v":249},{"s":"ema5","i":201,"v":249},{"s":"ema5","i":202,"v":247.8},{"s":"ema5","i":203,"v":247.6},{"s":"ema5","i":204,"v":246.1},{"s":"ema5","i":205,"v":246},{"s":"ema5","i":206,"v":245.3},{"s":"ema5","i":207,"v":244.5},{"s":"ema5","i":208,"v":243.5},{"s":"ema5","i":209,"v":241.3},{"s":"ema5","i":210,"v":241.2},{"s":"ema5","i":211,"v":241.5},{"s":"ema5","i":212,"v":239.7},{"s":"ema5","i":213,"v":239.6},{"s":"ema5","i":214,"v":240},{"s":"ema5","i":215,"v":241.8},{"s":"ema5","i":216,"v":241.7},{"s":"ema5","i":217,"v":242.1},{"s":"ema5","i":218,"v":243},{"s":"ema5","i":219,"v":242.3},{"s":"ema5","i":220,"v":242.4},{"s":"ema5","i":221,"v":243},{"s":"ema5","i":222,"v":243.5},{"s":"ema5","i":223,"v":244.1},{"s":"ema5","i":224,"v":243.5},{"s":"ema5","i":225,"v":241.2},{"s":"ema5","i":226,"v":239.8},{"s":"ema5","i":227,"v":238.5},{"s":"ema5","i":228,"v":238.5},{"s":"ema5","i":229,"v":238.2},{"s":"ema5","i":230,"v":237.2},{"s":"ema5","i":231,"v":238.1},{"s":"ema5","i":232,"v":239.2},{"s":"ema5","i":233,"v":239.8},{"s":"ema5","i":234,"v":244.1},{"s":"ema5","i":235,"v":248.8},{"s":"ema5","i":236,"v":251.5},{"s":"ema5","i":237,"v":255.2},{"s":"ema5","i":238,"v":260.3},{"s":"ema5","i":239,"v":265.79}
],
"hist":[
{"i":-1,"h":4,"s":"rise"},{"i":0,"h":4.5,"s":"rise"},{"i":1,"h":4.5,"s":"fade"},{"i":2,"h":3.9,"s":"fade"},{"i":3,"h":3.3,"s":"fade"},{"i":4,"h":3.1,"s":"fade"},{"i":5,"h":2.9,"s":"fade"},{"i":6,"h":2.6,"s":"fade"},{"i":7,"h":2.4,"s":"fade"},{"i":8,"h":1.9,"s":"fade"},{"i":9,"h":1.1,"s":"fade"},{"i":10,"h":0.5,"s":"fade"},{"i":11,"h":-0.7,"s":"drop"},{"i":12,"h":-1,"s":"drop"},{"i":13,"h":-1.4,"s":"drop"},{"i":14,"h":-1.6,"s":"drop"},{"i":15,"h":-1.6,"s":"drop"},{"i":16,"h":-1.6,"s":"drop"},{"i":17,"h":-1.6,"s":"drop"},{"i":18,"h":-1.6,"s":"ease"},{"i":19,"h":-1.6,"s":"ease"},{"i":20,"h":-1.9,"s":"drop"},{"i":21,"h":-2.1,"s":"drop"},{"i":22,"h":-2.4,"s":"drop"},{"i":23,"h":-2.8,"s":"drop"},{"i":24,"h":-2.2,"s":"ease"},{"i":25,"h":-1.9,"s":"ease"},{"i":26,"h":-1.6,"s":"ease"},{"i":27,"h":-1.4,"s":"ease"},{"i":28,"h":-1.1,"s":"ease"},{"i":29,"h":-0.7,"s":"ease"},{"i":30,"h":-0.2,"s":"ease"},{"i":31,"h":0.2,"s":"rise"},{"i":32,"h":0.5,"s":"rise"},{"i":33,"h":0.9,"s":"rise"},{"i":34,"h":1,"s":"rise"},{"i":35,"h":1.3,"s":"rise"},{"i":36,"h":0.9,"s":"fade"},{"i":37,"h":0.8,"s":"fade"},{"i":38,"h":0.8,"s":"rise"},{"i":39,"h":0.8,"s":"fade"},{"i":40,"h":0.5,"s":"fade"},{"i":41,"h":0.2,"s":"fade"},{"i":42,"h":-0.1,"s":"drop"},{"i":43,"h":-0.2,"s":"drop"},{"i":44,"h":-0.4,"s":"drop"},{"i":45,"h":-0.9,"s":"drop"},{"i":46,"h":-0.7,"s":"ease"},{"i":47,"h":-0.4,"s":"ease"},{"i":48,"h":0.4,"s":"rise"},{"i":49,"h":0.1,"s":"fade"},{"i":50,"h":-0.3,"s":"drop"},{"i":51,"h":0.5,"s":"rise"},{"i":52,"h":0.1,"s":"fade"},{"i":53,"h":-0.2,"s":"drop"},{"i":54,"h":-0.3,"s":"drop"},{"i":55,"h":-0.1,"s":"ease"},{"i":56,"h":-0.1,"s":"ease"},{"i":57,"h":-0.1,"s":"ease"},{"i":58,"h":-0.9,"s":"drop"},{"i":59,"h":-1.1,"s":"drop"},{"i":60,"h":-1.4,"s":"drop"},{"i":61,"h":-1.8,"s":"drop"},{"i":62,"h":-3.3,"s":"drop"},{"i":63,"h":-4.6,"s":"drop"},{"i":64,"h":-5.1,"s":"drop"},{"i":65,"h":-5.1,"s":"drop"},{"i":66,"h":-4.6,"s":"ease"},{"i":67,"h":-4,"s":"ease"},{"i":68,"h":-3.1,"s":"ease"},{"i":69,"h":-3.1,"s":"ease"},{"i":70,"h":-2.2,"s":"ease"},{"i":71,"h":-1.9,"s":"ease"},{"i":72,"h":-1.4,"s":"ease"},{"i":73,"h":-0.8,"s":"ease"},{"i":74,"h":0.1,"s":"rise"},{"i":75,"h":0.6,"s":"rise"},{"i":76,"h":1,"s":"rise"},{"i":77,"h":1.3,"s":"rise"},{"i":78,"h":1.3,"s":"rise"},{"i":79,"h":1.3,"s":"fade"},{"i":80,"h":1,"s":"fade"},{"i":81,"h":1,"s":"fade"},{"i":82,"h":0.7,"s":"fade"},{"i":83,"h":0.4,"s":"fade"},
{"i":84,"h":0.4,"s":"fade"},{"i":85,"h":0.4,"s":"fade"},{"i":86,"h":0.4,"s":"fade"},{"i":87,"h":0.4,"s":"rise"},{"i":88,"h":0.3,"s":"fade"},{"i":89,"h":0.4,"s":"rise"},{"i":90,"h":-0.1,"s":"drop"},{"i":91,"h":-0.4,"s":"drop"},{"i":92,"h":-0.7,"s":"drop"},{"i":93,"h":-1,"s":"drop"},{"i":94,"h":-1,"s":"drop"},{"i":95,"h":-1.4,"s":"drop"},{"i":96,"h":-1.4,"s":"ease"},{"i":97,"h":-0.8,"s":"ease"},{"i":98,"h":-0.8,"s":"ease"},{"i":99,"h":-0.4,"s":"ease"},{"i":100,"h":-0.5,"s":"drop"},{"i":101,"h":-0.7,"s":"drop"},{"i":102,"h":-0.7,"s":"drop"},{"i":103,"h":-1.1,"s":"drop"},{"i":104,"h":-0.5,"s":"ease"},{"i":105,"h":0.3,"s":"rise"},{"i":106,"h":0.7,"s":"rise"},{"i":107,"h":0.7,"s":"rise"},{"i":108,"h":0.7,"s":"rise"},{"i":109,"h":0.6,"s":"fade"},{"i":110,"h":0.4,"s":"fade"},{"i":111,"h":0.7,"s":"rise"},{"i":112,"h":0.7,"s":"rise"},{"i":113,"h":1,"s":"rise"},{"i":114,"h":1.6,"s":"rise"},{"i":115,"h":1.8,"s":"rise"},{"i":116,"h":2.1,"s":"rise"},{"i":117,"h":2.4,"s":"rise"},{"i":118,"h":2.4,"s":"rise"},{"i":119,"h":2.4,"s":"rise"},{"i":120,"h":-0.5,"s":"drop"},{"i":121,"h":-2.5,"s":"drop"},{"i":122,"h":-4,"s":"drop"},{"i":123,"h":-4.9,"s":"drop"},{"i":124,"h":-4.9,"s":"ease"},{"i":125,"h":-4.6,"s":"ease"},{"i":126,"h":-4,"s":"ease"},{"i":127,"h":-3.4,"s":"ease"},{"i":128,"h":-2.5,"s":"ease"},{"i":129,"h":-1.7,"s":"ease"},{"i":130,"h":-1.4,"s":"ease"},{"i":131,"h":-0.8,"s":"ease"},{"i":132,"h":-0.5,"s":"ease"},{"i":133,"h":-0.4,"s":"ease"},{"i":134,"h":-0.2,"s":"ease"},{"i":135,"h":0.3,"s":"rise"},{"i":136,"h":0.7,"s":"rise"},{"i":137,"h":1.3,"s":"rise"},{"i":138,"h":1.8,"s":"rise"},{"i":139,"h":2.4,"s":"rise"},{"i":140,"h":2.4,"s":"rise"},{"i":141,"h":2.4,"s":"rise"},{"i":142,"h":2.7,"s":"rise"},{"i":143,"h":3,"s":"rise"},{"i":144,"h":3,"s":"rise"},{"i":145,"h":3.3,"s":"rise"},{"i":146,"h":3,"s":"fade"},{"i":147,"h":3,"s":"rise"},{"i":148,"h":3,"s":"fade"},{"i":149,"h":2.4,"s":"fade"},{"i":150,"h":1.8,"s":"fade"},{"i":151,"h":1.8,"s":"fade"},{"i":152,"h":1.8,"s":"rise"},{"i":153,"h":2.1,"s":"rise"},{"i":154,"h":2.1,"s":"rise"},{"i":155,"h":1.8,"s":"fade"},{"i":156,"h":1.8,"s":"fade"},{"i":157,"h":1.3,"s":"fade"},{"i":158,"h":1,"s":"fade"},{"i":159,"h":0.7,"s":"fade"},{"i":160,"h":-0.4,"s":"drop"},{"i":161,"h":-0.3,"s":"ease"},{"i":162,"h":-0.2,"s":"ease"},{"i":163,"h":-0.2,"s":"drop"},{"i":164,"h":-0.2,"s":"drop"},{"i":165,"h":-0.2,"s":"drop"},{"i":166,"h":-0.4,"s":"drop"},{"i":167,"h":-1.4,"s":"drop"},{"i":168,"h":-2.2,"s":"drop"},{"i":169,"h":-2.2,"s":"drop"},{"i":170,"h":-2.2,"s":"drop"},{"i":171,"h":-1.7,"s":"ease"},{"i":172,"h":-1.7,"s":"ease"},{"i":173,"h":-1.7,"s":"ease"},{"i":174,"h":-1.1,"s":"ease"},{"i":175,"h":0.3,"s":"rise"},{"i":176,"h":1.3,"s":"rise"},{"i":177,"h":1.8,"s":"rise"},{"i":178,"h":2.4,"s":"rise"},{"i":179,"h":2.4,"s":"rise"},{"i":180,"h":2.4,"s":"rise"},{"i":181,"h":2.1,"s":"fade"},{"i":182,"h":3.9,"s":"rise"},{"i":183,"h":4.8,"s":"rise"},{"i":184,"h":5.3,"s":"rise"},{"i":185,"h":4.8,"s":"fade"},{"i":186,"h":4.2,"s":"fade"},{"i":187,"h":3.6,"s":"fade"},{"i":188,"h":3,"s":"fade"},{"i":189,"h":2.4,"s":"fade"},{"i":190,"h":1.8,"s":"fade"},{"i":191,"h":1,"s":"fade"},{"i":192,"h":0.4,"s":"fade"},{"i":193,"h":-0.4,"s":"drop"},{"i":194,"h":-0.6,"s":"drop"},{"i":195,"h":-0.8,"s":"drop"},{"i":196,"h":-1.4,"s":"drop"},{"i":197,"h":-1.7,"s":"drop"},{"i":198,"h":-2.2,"s":"drop"},{"i":199,"h":-2.2,"s":"drop"},{"i":200,"h":-2.2,"s":"drop"},{"i":201,"h":-2.2,"s":"ease"},{"i":202,"h":-2.2,"s":"drop"},{"i":203,"h":-2.2,"s":"ease"},{"i":204,"h":-2.2,"s":"drop"},{"i":205,"h":-2.2,"s":"ease"},{"i":206,"h":-1.9,"s":"ease"},{"i":207,"h":-1.9,"s":"ease"},{"i":208,"h":-1.9,"s":"drop"},{"i":209,"h":-2.2,"s":"drop"},{"i":210,"h":-1.9,"s":"ease"},{"i":211,"h":-1.7,"s":"ease"},{"i":212,"h":-1.4,"s":"drop"},{"i":213,"h":-1.1,"s":"ease"},{"i":214,"h":-0.8,"s":"ease"},{"i":215,"h":-0.5,"s":"ease"},{"i":216,"h":-0.2,"s":"ease"},{"i":217,"h":0.1,"s":"fade"},{"i":218,"h":0.3,"s":"rise"},{"i":219,"h":0.2,"s":"fade"},{"i":220,"h":0.4,"s":"rise"},{"i":221,"h":0.4,"s":"rise"},{"i":222,"h":0.4,"s":"rise"},{"i":223,"h":0.7,"s":"rise"},{"i":224,"h":0.4,"s":"fade"},{"i":225,"h":0.1,"s":"fade"},{"i":226,"h":-0.2,"s":"drop"},{"i":227,"h":-0.5,"s":"drop"},{"i":228,"h":-0.7,"s":"ease"},{"i":229,"h":-0.5,"s":"ease"},{"i":230,"h":-0.8,"s":"drop"},{"i":231,"h":-0.4,"s":"ease"},{"i":232,"h":-0.2,"s":"ease"},{"i":233,"h":0.4,"s":"rise"},{"i":234,"h":1.3,"s":"rise"},{"i":235,"h":2.1,"s":"rise"},{"i":236,"h":2.4,"s":"rise"},{"i":237,"h":3,"s":"rise"},{"i":238,"h":3.6,"s":"rise"},{"i":239,"h":3.99,"s":"rise"}
],
"macd":[
{"s":"macd","i":-0.7,"v":9.8},{"s":"macd","i":1.3,"v":12.7},{"s":"macd","i":4,"v":13.7},{"s":"macd","i":8,"v":14.1},{"s":"macd","i":11,"v":12.7},{"s":"macd","i":14.4,"v":10.2},{"s":"macd","i":18.8,"v":8.3},{"s":"macd","i":22.8,"v":4.9},{"s":"macd","i":25.8,"v":5.1},{"s":"macd","i":29,"v":5.7},{"s":"macd","i":31.8,"v":6.4},{"s":"macd","i":35,"v":7.9},{"s":"macd","i":38.4,"v":7.8},{"s":"macd","i":41.6,"v":7.1},{"s":"macd","i":44.4,"v":5.8},{"s":"macd","i":47,"v":6.6},{"s":"macd","i":49.8,"v":6.2},{"s":"macd","i":53.6,"v":6},{"s":"macd","i":57,"v":6.1},{"s":"macd","i":60.7,"v":3},{"s":"macd","i":62.9,"v":-0.9},{"s":"macd","i":65,"v":-5},{"s":"macd","i":67,"v":-6.6},{"s":"macd","i":70.5,"v":-6.6},{"s":"macd","i":74.3,"v":-5},{"s":"macd","i":77.8,"v":-3.1},{"s":"macd","i":81.4,"v":-2.8},{"s":"macd","i":83.5,"v":-3.3},{"s":"macd","i":89,"v":-2.9},{"s":"macd","i":92.2,"v":-4.4},{"s":"macd","i":95.5,"v":-5.8},{"s":"macd","i":99.8,"v":-5.6},{"s":"macd","i":103,"v":-6.7},{"s":"macd","i":105.3,"v":-5.5},{"s":"macd","i":108,"v":-5},{"s":"macd","i":112,"v":-4.7},{"s":"macd","i":115.6,"v":-1.7},{"s":"macd","i":119,"v":0},{"s":"macd","i":121,"v":-5.2},{"s":"macd","i":123,"v":-9.6},{"s":"macd","i":126.5,"v":-12.1},{"s":"macd","i":130.9,"v":-10.9},{"s":"macd","i":135.8,"v":-9.6},{"s":"macd","i":138.8,"v":-7},{"s":"macd","i":141.2,"v":-5.5},{"s":"macd","i":145,"v":-2},{"s":"macd","i":147.8,"v":-0.2},{"s":"macd","i":150.5,"v":0.1},{"s":"macd","i":154.3,"v":2.2},{"s":"macd","i":156.5,"v":2.3},{"s":"macd","i":159.7,"v":0.9},{"s":"macd","i":165.2,"v":0.7},{"s":"macd","i":167.9,"v":-1.8},{"s":"macd","i":170,"v":-3.3},{"s":"macd","i":172.8,"v":-3.9},{"s":"macd","i":174.4,"v":-2.8},{"s":"macd","i":177.7,"v":1.1},{"s":"macd","i":181,"v":2.4},{"s":"macd","i":184,"v":8.6},{"s":"macd","i":186.9,"v":11.1},{"s":"macd","i":189.4,"v":10.9},{"s":"macd","i":193.5,"v":8.3},{"s":"macd","i":199,"v":4.5},{"s":"macd","i":207,"v":0.9},{"s":"macd","i":211.5,"v":-1.4},{"s":"macd","i":217,"v":-0.7},{"s":"macd","i":223,"v":-0.1},{"s":"macd","i":226.7,"v":-1.3},{"s":"macd","i":230,"v":-1.7},{"s":"macd","i":232.7,"v":-0.9},{"s":"macd","i":235.4,"v":2},{"s":"macd","i":239,"v":6.44},
{"s":"signal","i":-0.7,"v":6.1},{"s":"signal","i":1.3,"v":8.3},{"s":"signal","i":4,"v":10.5},{"s":"signal","i":7.3,"v":12.2},{"s":"signal","i":11,"v":12.2},{"s":"signal","i":18.8,"v":9.8},{"s":"signal","i":22.6,"v":7.4},{"s":"signal","i":25.8,"v":6.1},{"s":"signal","i":29,"v":5.7},{"s":"signal","i":35,"v":6.9},{"s":"signal","i":41,"v":7.3},{"s":"signal","i":45.4,"v":6.6},{"s":"signal","i":49.8,"v":6.4},{"s":"signal","i":57,"v":6.1},{"s":"signal","i":60.7,"v":5},{"s":"signal","i":62.9,"v":2.7},{"s":"signal","i":65.6,"v":-0.7},{"s":"signal","i":67.3,"v":-2.4},{"s":"signal","i":70.5,"v":-4.6},{"s":"signal","i":73.3,"v":-5.1},{"s":"signal","i":76.5,"v":-4.5},{"s":"signal","i":81.4,"v":-3.5},{"s":"signal","i":83.5,"v":-3.4},{"s":"signal","i":89,"v":-3.2},{"s":"signal","i":94.4,"v":-4.8},{"s":"signal","i":99.3,"v":-5.3},{"s":"signal","i":103.6,"v":-5.9},{"s":"signal","i":112.4,"v":-5},{"s":"signal","i":115.6,"v":-3.3},{"s":"signal","i":119,"v":-2},{"s":"signal","i":121.6,"v":-3.8},{"s":"signal","i":125,"v":-7},{"s":"signal","i":127.6,"v":-9.6},{"s":"signal","i":130.9,"v":-10.5},{"s":"signal","i":134.1,"v":-10.6},{"s":"signal","i":137.4,"v":-9.6},{"s":"signal","i":141.2,"v":-7.4},{"s":"signal","i":145,"v":-4.3},{"s":"signal","i":148.9,"v":-2.1},{"s":"signal","i":152.7,"v":-0.6},{"s":"signal","i":156.5,"v":1.1},{"s":"signal","i":159.7,"v":1.3},{"s":"signal","i":165.2,"v":1},{"s":"signal","i":167.9,"v":0.1},{"s":"signal","i":170.6,"v":-1.7},{"s":"signal","i":174.4,"v":-2.6},{"s":"signal","i":178.2,"v":-1.2},{"s":"signal","i":181.5,"v":1.1},{"s":"signal","i":184.8,"v":5.2},{"s":"signal","i":188,"v":8.3},{"s":"signal","i":191.3,"v":9.1},{"s":"signal","i":195.1,"v":8.5},{"s":"signal","i":200.6,"v":5.9},{"s":"signal","i":206,"v":3},{"s":"signal","i":211.5,"v":0.1},{"s":"signal","i":217,"v":-0.6},{"s":"signal","i":224,"v":-0.3},{"s":"signal","i":229.4,"v":-1.1},{"s":"signal","i":233.2,"v":-0.9},{"s":"signal","i":236,"v":0.6},{"s":"signal","i":239,"v":2.44}
],
"rsi":[
{"s":"rsi","i":-0.8,"v":84.5},{"s":"rsi","i":0,"v":84.8},{"s":"rsi","i":0.8,"v":79.7},{"s":"rsi","i":1.9,"v":77.5},{"s":"rsi","i":3,"v":76.8},{"s":"rsi","i":3.8,"v":79.1},{"s":"rsi","i":5.1,"v":79.9},{"s":"rsi","i":6.2,"v":80.7},{"s":"rsi","i":7.9,"v":81.9},{"s":"rsi","i":9,"v":69.1},{"s":"rsi","i":10,"v":70.1},{"s":"rsi","i":11.9,"v":71},{"s":"rsi","i":13,"v":64.9},{"s":"rsi","i":13.9,"v":67},{"s":"rsi","i":15,"v":66.6},{"s":"rsi","i":16,"v":67.6},{"s":"rsi","i":17.1,"v":67.3},{"s":"rsi","i":18.1,"v":69.5},{"s":"rsi","i":19,"v":69.5},{"s":"rsi","i":19.9,"v":55.7},{"s":"rsi","i":21,"v":55.8},{"s":"rsi","i":23,"v":51.6},{"s":"rsi","i":24,"v":60.8},{"s":"rsi","i":25,"v":63.7},{"s":"rsi","i":26,"v":64.7},{"s":"rsi","i":27,"v":66.6},{"s":"rsi","i":27.9,"v":70.4},{"s":"rsi","i":29,"v":66.2},{"s":"rsi","i":29.9,"v":66.5},{"s":"rsi","i":31,"v":71},{"s":"rsi","i":32,"v":73.9},{"s":"rsi","i":32.9,"v":73.9},{"s":"rsi","i":34,"v":75.2},{"s":"rsi","i":35,"v":77.5},{"s":"rsi","i":36,"v":69.5},{"s":"rsi","i":37,"v":64.1},{"s":"rsi","i":37.9,"v":70.8},{"s":"rsi","i":38.9,"v":68.1},{"s":"rsi","i":40,"v":61.8},{"s":"rsi","i":41,"v":64.4},{"s":"rsi","i":42,"v":65},{"s":"rsi","i":43,"v":60},{"s":"rsi","i":43.9,"v":55.8},{"s":"rsi","i":45,"v":62.2},{"s":"rsi","i":46,"v":65.4},{"s":"rsi","i":47,"v":69.8},{"s":"rsi","i":48,"v":61.8},{"s":"rsi","i":49,"v":59},{"s":"rsi","i":50,"v":63.7},{"s":"rsi","i":50.9,"v":65.4},{"s":"rsi","i":52,"v":62.2},{"s":"rsi","i":53,"v":61.5},{"s":"rsi","i":54,"v":57.1},{"s":"rsi","i":55,"v":63.8},{"s":"rsi","i":56,"v":63},{"s":"rsi","i":57,"v":64},{"s":"rsi","i":58,"v":49.9},{"s":"rsi","i":59,"v":49.9},{"s":"rsi","i":60,"v":49.3},{"s":"rsi","i":61,"v":46.7},{"s":"rsi","i":62,"v":32.7},{"s":"rsi","i":63,"v":29.5},{"s":"rsi","i":64,"v":29.8},{"s":"rsi","i":65,"v":28.8},{"s":"rsi","i":66,"v":28.3},{"s":"rsi","i":67,"v":31.7},{"s":"rsi","i":68,"v":37.4},{"s":"rsi","i":69,"v":36.3},{"s":"rsi","i":70,"v":39.2},{"s":"rsi","i":71,"v":36.3},{"s":"rsi","i":72,"v":41.9},{"s":"rsi","i":73,"v":42.6},{"s":"rsi","i":74,"v":46.7},{"s":"rsi","i":75,"v":46.7},{"s":"rsi","i":76,"v":47.8},{"s":"rsi","i":77,"v":45.8},{"s":"rsi","i":78,"v":48.1},{"s":"rsi","i":79,"v":43.6},{"s":"rsi","i":80,"v":42.6},{"s":"rsi","i":81,"v":41.9},{"s":"rsi","i":82,"v":41.1},{"s":"rsi","i":83,"v":38.1},{"s":"rsi","i":84.9,"v":37.6},{"s":"rsi","i":86,"v":38.2},{"s":"rsi","i":87,"v":43.3},{"s":"rsi","i":88,"v":37.9},{"s":"rsi","i":89,"v":40.8},{"s":"rsi","i":90,"v":34.6},{"s":"rsi","i":91,"v":30.7},{"s":"rsi","i":92,"v":29.2},{"s":"rsi","i":93.7,"v":27.6},{"s":"rsi","i":95,"v":24.8},{"s":"rsi","i":96,"v":27.7},{"s":"rsi","i":97,"v":35},{"s":"rsi","i":98,"v":34.1},{"s":"rsi","i":99,"v":32.4},{"s":"rsi","i":100,"v":29.1},{"s":"rsi","i":101,"v":27.3},{"s":"rsi","i":102,"v":24},{"s":"rsi","i":103,"v":24.4},{"s":"rsi","i":104,"v":36.8},{"s":"rsi","i":105,"v":45.4},{"s":"rsi","i":106,"v":39},{"s":"rsi","i":107,"v":38.7},{"s":"rsi","i":108,"v":39},{"s":"rsi","i":109,"v":35},{"s":"rsi","i":110,"v":35.7},{"s":"rsi","i":111,"v":37},{"s":"rsi","i":112,"v":36.8},{"s":"rsi","i":113,"v":45.5},{"s":"rsi","i":114,"v":53.5},{"s":"rsi","i":115,"v":55.4},{"s":"rsi","i":116,"v":57.4},{"s":"rsi","i":117,"v":56.4},{"s":"rsi","i":119,"v":59.2},{"s":"rsi","i":120,"v":24.4},{"s":"rsi","i":121,"v":22.6},{"s":"rsi","i":123,"v":20},{"s":"rsi","i":124,"v":24.8},{"s":"rsi","i":125,"v":24.5},{"s":"rsi","i":126,"v":24.8},{"s":"rsi","i":127,"v":26.9},{"s":"rsi","i":128,"v":30.4},{"s":"rsi","i":129,"v":31.1},{"s":"rsi","i":130,"v":29.3},{"s":"rsi","i":131,"v":31.4},{"s":"rsi","i":133,"v":27},{"s":"rsi","i":134,"v":30.7},{"s":"rsi","i":135,"v":35.2},{"s":"rsi","i":136,"v":31.8},{"s":"rsi","i":137,"v":41.1},{"s":"rsi","i":138,"v":46.2},{"s":"rsi","i":139,"v":45.9},{"s":"rsi","i":140,"v":44.9},{"s":"rsi","i":141,"v":43.9},{"s":"rsi","i":142,"v":51.8},{"s":"rsi","i":143,"v":52.1},{"s":"rsi","i":144,"v":53.2},{"s":"rsi","i":145,"v":55.5},{"s":"rsi","i":146,"v":53.9},{"s":"rsi","i":147,"v":58},{"s":"rsi","i":148,"v":54.1},{"s":"rsi","i":149,"v":49.9},{"s":"rsi","i":150,"v":49.4},{"s":"rsi","i":151,"v":55.3},{"s":"rsi","i":152,"v":58.6},{"s":"rsi","i":153,"v":61.1},{"s":"rsi","i":154,"v":64.1},{"s":"rsi","i":155,"v":57.7},{"s":"rsi","i":156,"v":56.4},{"s":"rsi","i":157,"v":51.9},{"s":"rsi","i":158,"v":53.7},{"s":"rsi","i":159,"v":49.4},{"s":"rsi","i":160,"v":43},{"s":"rsi","i":161,"v":51.6},{"s":"rsi","i":162,"v":53.2},{"s":"rsi","i":163,"v":51.5},{"s":"rsi","i":164,"v":50.6},{"s":"rsi","i":165,"v":51.3},{"s":"rsi","i":166,"v":45.5},{"s":"rsi","i":167,"v":36.8},{"s":"rsi","i":168,"v":32},{"s":"rsi","i":169,"v":36.9},{"s":"rsi","i":170,"v":36.2},{"s":"rsi","i":171,"v":38.9},{"s":"rsi","i":172,"v":38.9},{"s":"rsi","i":173,"v":37.4},{"s":"rsi","i":174,"v":45.5},{"s":"rsi","i":175,"v":54.2},{"s":"rsi","i":176,"v":61.5},{"s":"rsi","i":177,"v":61.7},{"s":"rsi","i":178,"v":62.4},{"s":"rsi","i":179,"v":62.2},{"s":"rsi","i":180,"v":63.3},{"s":"rsi","i":181,"v":59.3},{"s":"rsi","i":182,"v":77.2},{"s":"rsi","i":183,"v":77.4},{"s":"rsi","i":184,"v":79.1},{"s":"rsi","i":185,"v":73.4},{"s":"rsi","i":186,"v":74.3},{"s":"rsi","i":187,"v":74.9},{"s":"rsi","i":188,"v":70.2},{"s":"rsi","i":189,"v":68.1},{"s":"rsi","i":190,"v":64.7},{"s":"rsi","i":191,"v":63},{"s":"rsi","i":192,"v":61.8},{"s":"rsi","i":193,"v":63.7},{"s":"rsi","i":194,"v":63.6},{"s":"rsi","i":195,"v":56.9},{"s":"rsi","i":196,"v":55.7},{"s":"rsi","i":197,"v":54.5},{"s":"rsi","i":198,"v":53.1},{"s":"rsi","i":199,"v":53.4},{"s":"rsi","i":200,"v":51.9},{"s":"rsi","i":201,"v":53.1},{"s":"rsi","i":202,"v":48},{"s":"rsi","i":203,"v":51},{"s":"rsi","i":204,"v":45.8},{"s":"rsi","i":205,"v":48.9},{"s":"rsi","i":206,"v":46.4},{"s":"rsi","i":207,"v":47.5},{"s":"rsi","i":208,"v":41.9},{"s":"rsi","i":209,"v":38.2},{"s":"rsi","i":210,"v":44.9},{"s":"rsi","i":211,"v":47},{"s":"rsi","i":212,"v":38.8},{"s":"rsi","i":213,"v":44.9},{"s":"rsi","i":214,"v":46.5},{"s":"rsi","i":215,"v":52.5},{"s":"rsi","i":216,"v":47.2},{"s":"rsi","i":217,"v":49.1},{"s":"rsi","i":218,"v":52.2},{"s":"rsi","i":219,"v":46.7},{"s":"rsi","i":220,"v":50.6},{"s":"rsi","i":221,"v":52.1},{"s":"rsi","i":222,"v":51.2},{"s":"rsi","i":223,"v":55},{"s":"rsi","i":224,"v":48.4},{"s":"rsi","i":225,"v":42.6},{"s":"rsi","i":226,"v":43.9},{"s":"rsi","i":227,"v":41},{"s":"rsi","i":228,"v":46.4},{"s":"rsi","i":229,"v":46.1},{"s":"rsi","i":230,"v":40.7},{"s":"rsi","i":231,"v":48.1},{"s":"rsi","i":232,"v":50.7},{"s":"rsi","i":233,"v":50.7},{"s":"rsi","i":234,"v":62.1},{"s":"rsi","i":235,"v":66.9},{"s":"rsi","i":236,"v":64.9},{"s":"rsi","i":237,"v":70.2},{"s":"rsi","i":238,"v":73.4},{"s":"rsi","i":239,"v":76.18},
{"s":"sma","i":-0.8,"v":69.1},{"s":"sma","i":0.8,"v":71.7},{"s":"sma","i":3.5,"v":73.9},{"s":"sma","i":7.9,"v":77.8},{"s":"sma","i":11.1,"v":78.3},{"s":"sma","i":14.4,"v":74.6},{"s":"sma","i":18.8,"v":71.4},{"s":"sma","i":20.4,"v":68.1},{"s":"sma","i":22.6,"v":64.4},{"s":"sma","i":25.3,"v":62.7},{"s":"sma","i":30.7,"v":63},{"s":"sma","i":32.9,"v":63.7},{"s":"sma","i":35.6,"v":68.1},{"s":"sma","i":37.8,"v":69.8},{"s":"sma","i":41.6,"v":69.2},{"s":"sma","i":46,"v":66.6},{"s":"sma","i":49.3,"v":63.7},{"s":"sma","i":52.5,"v":62.4},{"s":"sma","i":57,"v":62.5},{"s":"sma","i":59.9,"v":60.3},{"s":"sma","i":63.4,"v":53.5},{"s":"sma","i":67,"v":44.5},{"s":"sma","i":71,"v":37.1},{"s":"sma","i":74.9,"v":36.3},{"s":"sma","i":78.7,"v":41.1},{"s":"sma","i":80.3,"v":42.6},{"s":"sma","i":83.5,"v":43.2},{"s":"sma","i":86.2,"v":43.2},{"s":"sma","i":89,"v":42.2},{"s":"sma","i":91,"v":39.7},{"s":"sma","i":95.5,"v":34.6},{"s":"sma","i":99.3,"v":32.8},{"s":"sma","i":103.1,"v":29.2},{"s":"sma","i":105.3,"v":30.7},{"s":"sma","i":109.1,"v":33.9},{"s":"sma","i":112.4,"v":34.3},{"s":"sma","i":114.5,"v":38.2},{"s":"sma","i":117.3,"v":44.5},{"s":"sma","i":119,"v":46.2},{"s":"sma","i":121.6,"v":43.2},{"s":"sma","i":125.9,"v":39.4},{"s":"sma","i":128.7,"v":35.3},{"s":"sma","i":131.4,"v":30.2},{"s":"sma","i":132.9,"v":26.3},{"s":"sma","i":136,"v":28.5},{"s":"sma","i":138.5,"v":32.8},{"s":"sma","i":141.2,"v":36.3},{"s":"sma","i":145,"v":42.3},{"s":"sma","i":147.8,"v":47.7},{"s":"sma","i":150,"v":49.9},{"s":"sma","i":152.7,"v":52.8},{"s":"sma","i":154.9,"v":55.5},{"s":"sma","i":158.1,"v":55.7},{"s":"sma","i":160.3,"v":54.1},{"s":"sma","i":164.6,"v":53.9},{"s":"sma","i":166.3,"v":52},{"s":"sma","i":167.9,"v":49.1},{"s":"sma","i":169.5,"v":46.2},{"s":"sma","i":172.8,"v":43.2},{"s":"sma","i":175,"v":43.3},{"s":"sma","i":178.8,"v":46.2},{"s":"sma","i":181,"v":49.1},{"s":"sma","i":184.2,"v":58.6},{"s":"sma","i":186.4,"v":65.2},{"s":"sma","i":188.9,"v":68.9},{"s":"sma","i":194.6,"v":69.2},{"s":"sma","i":198.4,"v":62.2},{"s":"sma","i":202.2,"v":57.1},{"s":"sma","i":207,"v":52.1},{"s":"sma","i":209,"v":49.1},{"s":"sma","i":213,"v":46.2},{"s":"sma","i":217,"v":45.8},{"s":"sma","i":221.6,"v":46.7},{"s":"sma","i":223,"v":48.7},{"s":"sma","i":228,"v":48.4},{"s":"sma","i":230,"v":47.5},{"s":"sma","i":232.8,"v":47.5},{"s":"sma","i":235.4,"v":49.9},{"s":"sma","i":237.1,"v":52},{"s":"sma","i":239,"v":55.44}
],
"over":[
{"seg":"a","i":-0.9,"v":84.5},{"seg":"a","i":0,"v":84.8},{"seg":"a","i":0.8,"v":79.7},{"seg":"a","i":1.9,"v":77.5},{"seg":"a","i":3,"v":76.8},{"seg":"a","i":3.8,"v":79.1},{"seg":"a","i":5.1,"v":79.9},{"seg":"a","i":6.2,"v":80.7},{"seg":"a","i":7.9,"v":81.9},{"seg":"a","i":8.9,"v":70},
{"seg":"b","i":30.5,"v":70},{"seg":"b","i":31,"v":71},{"seg":"b","i":32,"v":73.9},{"seg":"b","i":32.9,"v":73.9},{"seg":"b","i":34,"v":75.2},{"seg":"b","i":35,"v":77.5},{"seg":"b","i":35.9,"v":70},
{"seg":"c","i":181.6,"v":70},{"seg":"c","i":182,"v":77.2},{"seg":"c","i":183,"v":77.4},{"seg":"c","i":184,"v":79.1},{"seg":"c","i":185,"v":73.4},{"seg":"c","i":186,"v":74.3},{"seg":"c","i":187,"v":74.9},{"seg":"c","i":188,"v":70.2},
{"seg":"d","i":237,"v":70.2},{"seg":"d","i":238,"v":73.4},{"seg":"d","i":239,"v":76.18}
],
"under":[
{"seg":"a","i":62.8,"v":30},{"seg":"a","i":63,"v":29.5},{"seg":"a","i":64,"v":29.8},{"seg":"a","i":65,"v":28.8},{"seg":"a","i":66,"v":28.3},{"seg":"a","i":66.5,"v":30},
{"seg":"b","i":91.6,"v":30},{"seg":"b","i":92,"v":29.2},{"seg":"b","i":93.7,"v":27.6},{"seg":"b","i":95,"v":24.8},{"seg":"b","i":96,"v":27.7},{"seg":"b","i":96.4,"v":30},
{"seg":"c","i":99.8,"v":30},{"seg":"c","i":100,"v":29.1},{"seg":"c","i":101,"v":27.3},{"seg":"c","i":102,"v":24},{"seg":"c","i":103,"v":24.4},{"seg":"c","i":103.5,"v":30},
{"seg":"d","i":119.8,"v":30},{"seg":"d","i":120,"v":24.4},{"seg":"d","i":121,"v":22.6},{"seg":"d","i":123,"v":20},{"seg":"d","i":124,"v":24.8},{"seg":"d","i":125,"v":24.5},{"seg":"d","i":126,"v":24.8},{"seg":"d","i":127,"v":26.9},{"seg":"d","i":127.9,"v":30},
{"seg":"e","i":132.4,"v":30},{"seg":"e","i":133,"v":27},{"seg":"e","i":133.8,"v":30}
],
"notes":[
{"t":"tkj1101 published on TradingView.com, Nov 14, 2024 10:19 UTC+8","i":-0.915,"v":342.63,"s":"ink"},
{"t":"Workday, Inc., 1D, NASDAQ","i":-0.1,"v":337.9,"s":"ink"},{"t":"O","i":15.44,"v":337.9,"s":"ink"},{"t":"270.42","i":16.24,"v":337.9,"s":"up"},{"t":"H","i":20.62,"v":337.9,"s":"ink"},{"t":"278.98","i":21.44,"v":337.9,"s":"up"},{"t":"L","i":25.81,"v":337.9,"s":"ink"},{"t":"270.00","i":26.46,"v":337.9,"s":"up"},{"t":"C","i":30.8,"v":337.9,"s":"ink"},{"t":"276.51","i":31.57,"v":337.9,"s":"up"},{"t":"+6.19 (+2.29%)","i":35.94,"v":337.9,"s":"up"},
{"t":"Vol","i":-0.1,"v":335,"s":"ink"},{"t":"2.747M","i":2.32,"v":335,"s":"vol"},
{"t":"4 EMAs (5, 20, 50, 200)","i":-0.1,"v":332.1,"s":"ink"},{"t":"265.79","i":13.22,"v":332.1,"s":"ema5"},{"t":"251.19","i":17.59,"v":332.1,"s":"ema20"},{"t":"245.76","i":21.97,"v":332.1,"s":"ema50"},{"t":"242.74","i":26.38,"v":332.1,"s":"ema200"},
{"t":"USD","i":247.8,"v":337.36,"s":"ink"}
],
"macdNotes":[
{"t":"MACD (12, 26, close, 9, EMA, EMA)","i":-0.1,"v":13.0,"s":"ink"},{"t":"3.99","i":19.5,"v":13.0,"s":"hist"},{"t":"6.44","i":22.6,"v":13.0,"s":"macd"},{"t":"2.44","i":25.7,"v":13.0,"s":"signal"}
],
"rsiNotes":[
{"t":"RSI (14, close, SMA, 14, 2)","i":-0.1,"v":82.7,"s":"ink"},{"t":"76.18","i":14.95,"v":82.7,"s":"rsi"},{"t":"55.44","i":18.7,"v":82.7,"s":"sma"},{"t":"∅","i":22.6,"v":82.7,"s":"ink"},{"t":"∅","i":24.1,"v":82.7,"s":"ink"},
{"t":"TradingView","i":1.43,"v":-6.3,"s":"ink"}
],
"priceTags":[
{"t":"305.00","v":305,"s":"down"},{"t":"276.51","v":276.51,"s":"up"},{"t":"265.79","v":265.79,"s":"ema5"},{"t":"251.19","v":251.19,"s":"ema20"},{"t":"245.76","v":245.76,"s":"ema50"},{"t":"242.74","v":242.74,"s":"ema200"}
],
"macdTags":[
{"t":"6.44","v":8.93,"s":"macd"},{"t":"3.99","v":3.98,"s":"hist"},{"t":"2.44","v":-0.97,"s":"signal"}
],
"rsiTags":[
{"t":"76.18","v":76.07,"s":"rsi"},{"t":"55.44","v":55.4,"s":"sma"}
],
"earnings":[{"i":57,"v":0.81,"t":"E"},{"i":119,"v":0.81,"t":"E"},{"i":181,"v":0.81,"t":"E"}]
},
"vconcat":[
{"width":2432,"height":973,
"layer":[
{"layer":[
{"data":{"name":"bars"},"mark":{"type":"bar","size":8,"orient":"vertical","clip":true,"opacity":0.45},
"encoding":{"x":{"field":"i","type":"quantitative","scale":{"domain":[-0.915,246.4],"nice":false,"zero":false},
"axis":{"grid":true,"labels":false,"values":[0,11,20,29,41,50,61,72,81,91,103,116,125,135,144,153,166,178,188,197,208,217,231,242]}},
"y":{"field":"v","type":"quantitative","stack":null,"scale":{"domain":[0,60.81],"nice":false},"axis":null},
"color":{"condition":{"test":"datum.c>=datum.o","value":"#089981"},"value":"#f23645"}}},
{"data":{"name":"earnings"},"mark":{"type":"point","shape":"M0,-1 L0.75,-0.55 L0.75,1 L-0.75,1 L-0.75,-0.55 Z","size":380,"filled":true,"fill":"#ffffff","stroke":"#089981","strokeWidth":2,"opacity":1},
"encoding":{"x":{"field":"i","type":"quantitative"},"y":{"field":"v","type":"quantitative"}}},
{"data":{"name":"earnings"},"mark":{"type":"text","align":"center","fontWeight":"bold","fontSize":12,"color":"#089981"},
"encoding":{"x":{"field":"i","type":"quantitative"},"y":{"field":"v","type":"quantitative"},"text":{"field":"t"}}},
{"data":{"values":[{"i":239,"v":0.81}]},"mark":{"type":"point","shape":"circle","size":300,"filled":true,"fill":"#ffffff","stroke":"#9c27b0","strokeWidth":2,"opacity":1},
"encoding":{"x":{"field":"i","type":"quantitative"},"y":{"field":"v","type":"quantitative"}}},
{"data":{"values":[{"i":239,"v":0.81}]},"mark":{"type":"point","shape":"M0.2,-1 L-0.5,0.15 L-0.05,0.15 L-0.2,1 L0.5,-0.2 L0.05,-0.2 Z","size":150,"filled":true,"fill":"#9c27b0","opacity":1},
"encoding":{"x":{"field":"i","type":"quantitative"},"y":{"field":"v","type":"quantitative"}}},
{"data":{"values":[{"t":"2.747M","v":2.747}]},"mark":{"type":"rect","height":17,"color":"#26a69a"},
"encoding":{"x":{"datum":246.5,"type":"quantitative"},"x2":{"datum":251.8},"y":{"field":"v","type":"quantitative"}}},
{"data":{"values":[{"t":"2.747M","v":2.747}]},"mark":{"type":"text","color":"#ffffff"},
"encoding":{"x":{"datum":247.2,"type":"quantitative"},"y":{"field":"v","type":"quantitative"},"text":{"field":"t"}}}
]},
{"layer":[
{"data":{"name":"ema"},"mark":{"type":"line","strokeWidth":2.5,"opacity":0.65,"clip":true},
"encoding":{"x":{"field":"i","type":"quantitative"},"y":{"field":"v","type":"quantitative","scale":{"domain":[171.85,340.5],"nice":false,"zero":false},
"axis":{"orient":"right","grid":true,"values":[190,200,210,220,230,240,250,260,270,280,290,300,310,320,330],"format":".2f","labelPadding":9}},
"color":{"field":"s","type":"nominal","scale":{"domain":["ink","up","down","vol","ema5","ema20","ema50","ema200","macd","signal","hist","rsi","sma","rise","fade","ease","drop"],"range":["#131722","#089981","#f23645","#26a69a","#f57c00","#4caf50","#2962ff","#f23645","#2962ff","#ff6d00","#26a69a","#7e57c2","#ffeb3b","#26a69a","#b2dfdb","#ffcdd2","#ff5252"]}}}},
{"data":{"name":"bars"},"mark":{"type":"rule","strokeWidth":1,"clip":true},
"encoding":{"x":{"field":"i","type":"quantitative"},"y":{"field":"l","type":"quantitative"},"y2":{"field":"h"},"color":{"condition":{"test":"datum.c>=datum.o","value":"#089981"},"value":"#f23645"}}},
{"data":{"name":"bars"},"mark":{"type":"bar","size":7,"orient":"vertical","clip":true},
"encoding":{"x":{"field":"i","type":"quantitative"},"y":{"field":"o","type":"quantitative"},"y2":{"field":"c"},"color":{"condition":{"test":"datum.c>=datum.o","value":"#089981"},"value":"#f23645"}}},
{"data":{"values":[{}]},"mark":{"type":"rule","strokeWidth":1,"strokeDash":[1,2],"color":"#089981"},
"encoding":{"x":{"datum":-0.915,"type":"quantitative"},"x2":{"datum":246.4},"y":{"datum":276.51,"type":"quantitative"}}},
{"data":{"values":[{}]},"mark":{"type":"rule","strokeWidth":2,"color":"#f23645"},
"encoding":{"x":{"datum":-0.915,"type":"quantitative"},"x2":{"datum":246.4},"y":{"datum":305,"type":"quantitative"}}},
{"data":{"values":[{}]},"mark":{"type":"rule","strokeWidth":2,"color":"#eceef3"},
"encoding":{"x":{"datum":-0.915,"type":"quantitative"},"x2":{"datum":252.3},"y":{"datum":340.5,"type":"quantitative"}}},
{"data":{"values":[{}]},"mark":{"type":"rule","strokeWidth":2,"color":"#e0e3eb"},
"encoding":{"x":{"datum":-0.915,"type":"quantitative"},"x2":{"datum":252.3},"y":{"datum":171.85,"type":"quantitative"}}},
{"data":{"values":[{}]},"mark":{"type":"rule","strokeWidth":2,"color":"#eceef3"},
"encoding":{"x":{"datum":-0.915,"type":"quantitative"},"y":{"datum":171.85,"type":"quantitative"},"y2":{"datum":340.5}}},
{"data":{"values":[{}]},"mark":{"type":"rule","strokeWidth":2,"color":"#eceef3"},
"encoding":{"x":{"datum":252.3,"type":"quantitative"},"y":{"datum":171.85,"type":"quantitative"},"y2":{"datum":340.5}}},
{"data":{"values":[{}]},"mark":{"type":"rect","fill":null,"stroke":"#e0e3eb","strokeWidth":1,"cornerRadius":3},
"encoding":{"x":{"datum":247,"type":"quantitative"},"x2":{"datum":250.9},"y":{"datum":339.1,"type":"quantitative"},"y2":{"datum":335.4}}},
{"data":{"name":"priceTags"},"mark":{"type":"rect","height":17},
"encoding":{"x":{"datum":246.5,"type":"quantitative"},"x2":{"datum":251.5},"y":{"field":"v","type":"quantitative"},
"color":{"field":"s","type":"nominal","scale":{"domain":["ink","up","down","vol","ema5","ema20","ema50","ema200","macd","signal","hist","rsi","sma","rise","fade","ease","drop"],"range":["#131722","#089981","#f23645","#26a69a","#f57c00","#4caf50","#2962ff","#f23645","#2962ff","#ff6d00","#26a69a","#7e57c2","#ffeb3b","#26a69a","#b2dfdb","#ffcdd2","#ff5252"]}}}},
{"data":{"name":"priceTags"},"mark":{"type":"text","color":"#ffffff"},
"encoding":{"x":{"datum":247.2,"type":"quantitative"},"y":{"field":"v","type":"quantitative"},"text":{"field":"t"}}},
{"data":{"name":"notes"},"mark":{"type":"text"},
"encoding":{"x":{"field":"i","type":"quantitative"},"y":{"field":"v","type":"quantitative"},"text":{"field":"t"},
"color":{"field":"s","type":"nominal","scale":{"domain":["ink","up","down","vol","ema5","ema20","ema50","ema200","macd","signal","hist","rsi","sma","rise","fade","ease","drop"],"range":["#131722","#089981","#f23645","#26a69a","#f57c00","#4caf50","#2962ff","#f23645","#2962ff","#ff6d00","#26a69a","#7e57c2","#ffeb3b","#26a69a","#b2dfdb","#ffcdd2","#ff5252"]}}}}
]}
],
"resolve":{"scale":{"y":"independent"}}
},
{"width":2432,"height":112,
"layer":[
{"data":{"values":[{}]},"mark":{"type":"rule","strokeWidth":1,"strokeDash":[4,4],"color":"#b2b5be"},
"encoding":{"x":{"datum":-0.915,"type":"quantitative"},"x2":{"datum":246.4},
"y":{"datum":0,"type":"quantitative","scale":{"domain":[-15.07,17.58],"nice":false,"zero":false},
"axis":{"orient":"right","grid":true,"values":[-10,0,10],"labelExpr":"datum.value==0?'0':format(datum.value,'.2f')","labelPadding":9}}}},
{"data":{"name":"hist"},"mark":{"type":"bar","size":8,"orient":"vertical","clip":true},
"encoding":{"x":{"field":"i","type":"quantitative","scale":{"domain":[-0.915,246.4],"nice":false,"zero":false},
"axis":{"grid":true,"labels":false,"values":[0,11,20,29,41,50,61,72,81,91,103,116,125,135,144,153,166,178,188,197,208,217,231,242]}},
"y":{"field":"h","type":"quantitative","stack":null},
"color":{"field":"s","type":"nominal","scale":{"domain":["ink","up","down","vol","ema5","ema20","ema50","ema200","macd","signal","hist","rsi","sma","rise","fade","ease","drop"],"range":["#131722","#089981","#f23645","#26a69a","#f57c00","#4caf50","#2962ff","#f23645","#2962ff","#ff6d00","#26a69a","#7e57c2","#ffeb3b","#26a69a","#b2dfdb","#ffcdd2","#ff5252"]}}}},
{"data":{"name":"macd"},"mark":{"type":"line","strokeWidth":1.3,"clip":true,"interpolate":"monotone"},
"encoding":{"x":{"field":"i","type":"quantitative"},"y":{"field":"v","type":"quantitative"},"color":{"field":"s","type":"nominal"}}},
{"data":{"values":[{}]},"mark":{"type":"rule","strokeWidth":2,"color":"#e0e3eb"},
"encoding":{"x":{"datum":-0.915,"type":"quantitative"},"x2":{"datum":252.3},"y":{"datum":-15.07,"type":"quantitative"}}},
{"data":{"values":[{}]},"mark":{"type":"rule","strokeWidth":2,"color":"#eceef3"},
"encoding":{"x":{"datum":-0.915,"type":"quantitative"},"y":{"datum":-15.07,"type":"quantitative"},"y2":{"datum":17.58}}},
{"data":{"values":[{}]},"mark":{"type":"rule","strokeWidth":2,"color":"#eceef3"},
"encoding":{"x":{"datum":252.3,"type":"quantitative"},"y":{"datum":-15.07,"type":"quantitative"},"y2":{"datum":17.58}}},
{"data":{"name":"macdTags"},"mark":{"type":"rect","height":17},
"encoding":{"x":{"datum":246.5,"type":"quantitative"},"x2":{"datum":250.3},"y":{"field":"v","type":"quantitative"},"color":{"field":"s","type":"nominal"}}},
{"data":{"name":"macdTags"},"mark":{"type":"text","color":"#ffffff"},
"encoding":{"x":{"datum":247.2,"type":"quantitative"},"y":{"field":"v","type":"quantitative"},"text":{"field":"t"}}},
{"data":{"name":"macdNotes"},"mark":{"type":"text"},
"encoding":{"x":{"field":"i","type":"quantitative"},"y":{"field":"v","type":"quantitative"},"text":{"field":"t"},"color":{"field":"s","type":"nominal"}}}
]
},
{"width":2432,"height":175,
"layer":[
{"data":{"values":[{}]},"mark":{"type":"rect","color":"#7e57c2","opacity":0.12},
"encoding":{"x":{"datum":-0.915,"type":"quantitative"},"x2":{"datum":246.4},
"y":{"datum":30,"type":"quantitative","scale":{"domain":[13.3,89.75],"nice":false,"zero":false},
"axis":{"orient":"right","grid":true,"values":[20,40,60,80],"format":".2f","labelPadding":9}},"y2":{"datum":70}}},
{"data":{"name":"over"},"mark":{"type":"area","clip":true,"color":{"gradient":"linear","x1":0,"y1":0,"x2":0,"y2":1,"stops":[{"offset":0,"color":"rgba(76,175,80,0.4)"},{"offset":1,"color":"rgba(76,175,80,0)"}]}},
"encoding":{"x":{"field":"i","type":"quantitative","scale":{"domain":[-0.915,246.4],"nice":false,"zero":false},
"axis":{"grid":true,"labelPadding":7,"labelFlush":false,"labelOverlap":false,"values":[0,11,20,29,41,50,61,72,81,91,103,116,125,135,144,153,166,178,188,197,208,217,231,242],
"labelExpr":"['Dec','18','2024','16','Feb','14','Mar','18','Apr','15','May','20','Jun','17','Jul','15','Aug','19','Sep','16','Oct','14','Nov','18'][indexof([0,11,20,29,41,50,61,72,81,91,103,116,125,135,144,153,166,178,188,197,208,217,231,242],datum.value)]",
"labelFontWeight":{"condition":{"test":"datum.value==20","value":"bold"},"value":"normal"}}},
"y":{"field":"v","type":"quantitative"},"y2":{"datum":70},"detail":{"field":"seg"}}},
{"data":{"name":"under"},"mark":{"type":"area","clip":true,"color":{"gradient":"linear","x1":0,"y1":0,"x2":0,"y2":1,"stops":[{"offset":0,"color":"rgba(242,54,69,0)"},{"offset":1,"color":"rgba(242,54,69,0.35)"}]}},
"encoding":{"x":{"field":"i","type":"quantitative"},"y":{"field":"v","type":"quantitative"},"y2":{"datum":30},"detail":{"field":"seg"}}},
{"data":{"values":[{}]},"mark":{"type":"rule","strokeWidth":1,"strokeDash":[4,4],"color":"#787b86"},
"encoding":{"x":{"datum":-0.915,"type":"quantitative"},"x2":{"datum":246.4},"y":{"datum":70,"type":"quantitative"}}},
{"data":{"values":[{}]},"mark":{"type":"rule","strokeWidth":1,"strokeDash":[4,4],"color":"#787b86"},
"encoding":{"x":{"datum":-0.915,"type":"quantitative"},"x2":{"datum":246.4},"y":{"datum":30,"type":"quantitative"}}},
{"data":{"values":[{}]},"mark":{"type":"rule","strokeWidth":1,"strokeDash":[4,4],"color":"#b2b5be"},
"encoding":{"x":{"datum":-0.915,"type":"quantitative"},"x2":{"datum":246.4},"y":{"datum":50,"type":"quantitative"}}},
{"data":{"name":"rsi"},"mark":{"type":"line","strokeWidth":1,"clip":true},
"encoding":{"x":{"field":"i","type":"quantitative"},"y":{"field":"v","type":"quantitative"},
"color":{"field":"s","type":"nominal","scale":{"domain":["ink","up","down","vol","ema5","ema20","ema50","ema200","macd","signal","hist","rsi","sma","rise","fade","ease","drop"],"range":["#131722","#089981","#f23645","#26a69a","#f57c00","#4caf50","#2962ff","#f23645","#2962ff","#ff6d00","#26a69a","#7e57c2","#ffeb3b","#26a69a","#b2dfdb","#ffcdd2","#ff5252"]}}}},
{"data":{"values":[{}]},"mark":{"type":"rule","strokeWidth":2,"color":"#eceef3"},
"encoding":{"x":{"datum":-0.915,"type":"quantitative"},"x2":{"datum":252.3},"y":{"datum":1.07,"type":"quantitative"}}},
{"data":{"values":[{}]},"mark":{"type":"rule","strokeWidth":2,"color":"#eceef3"},
"encoding":{"x":{"datum":-0.915,"type":"quantitative"},"y":{"datum":1.07,"type":"quantitative"},"y2":{"datum":89.75}}},
{"data":{"values":[{}]},"mark":{"type":"rule","strokeWidth":2,"color":"#eceef3"},
"encoding":{"x":{"datum":252.3,"type":"quantitative"},"y":{"datum":1.07,"type":"quantitative"},"y2":{"datum":89.75}}},
{"data":{"name":"rsiTags"},"mark":{"type":"rect","height":17},
"encoding":{"x":{"datum":246.5,"type":"quantitative"},"x2":{"datum":250.9},"y":{"field":"v","type":"quantitative"},"color":{"field":"s","type":"nominal"}}},
{"data":{"name":"rsiTags"},"mark":{"type":"text"},
"encoding":{"x":{"datum":247.2,"type":"quantitative"},"y":{"field":"v","type":"quantitative"},"text":{"field":"t"},
"color":{"condition":{"test":"datum.s=='sma'","value":"#131722"},"value":"#ffffff"}}},
{"data":{"name":"rsiNotes"},"mark":{"type":"text"},
"encoding":{"x":{"field":"i","type":"quantitative"},"y":{"field":"v","type":"quantitative"},"text":{"field":"t"},"color":{"field":"s","type":"nominal"}}},
{"data":{"values":[{"i":0.05,"v":-6.3}]},"mark":{"type":"point","shape":"M-1,-0.55 L-0.2,-0.55 L-0.2,0.55 L-0.6,0.55 L-0.6,-0.15 L-1,-0.15 Z M0.3,-0.55 L1,-0.55 L0.55,0.55 L0.02,0.55 Z M-0.1,-0.55 L0.2,-0.55 L0.2,-0.2 L-0.1,-0.2 Z","size":380,"filled":true,"fill":"#131722","opacity":1},
"encoding":{"x":{"field":"i","type":"quantitative"},"y":{"field":"v","type":"quantitative"}}}
]
}
]
}
